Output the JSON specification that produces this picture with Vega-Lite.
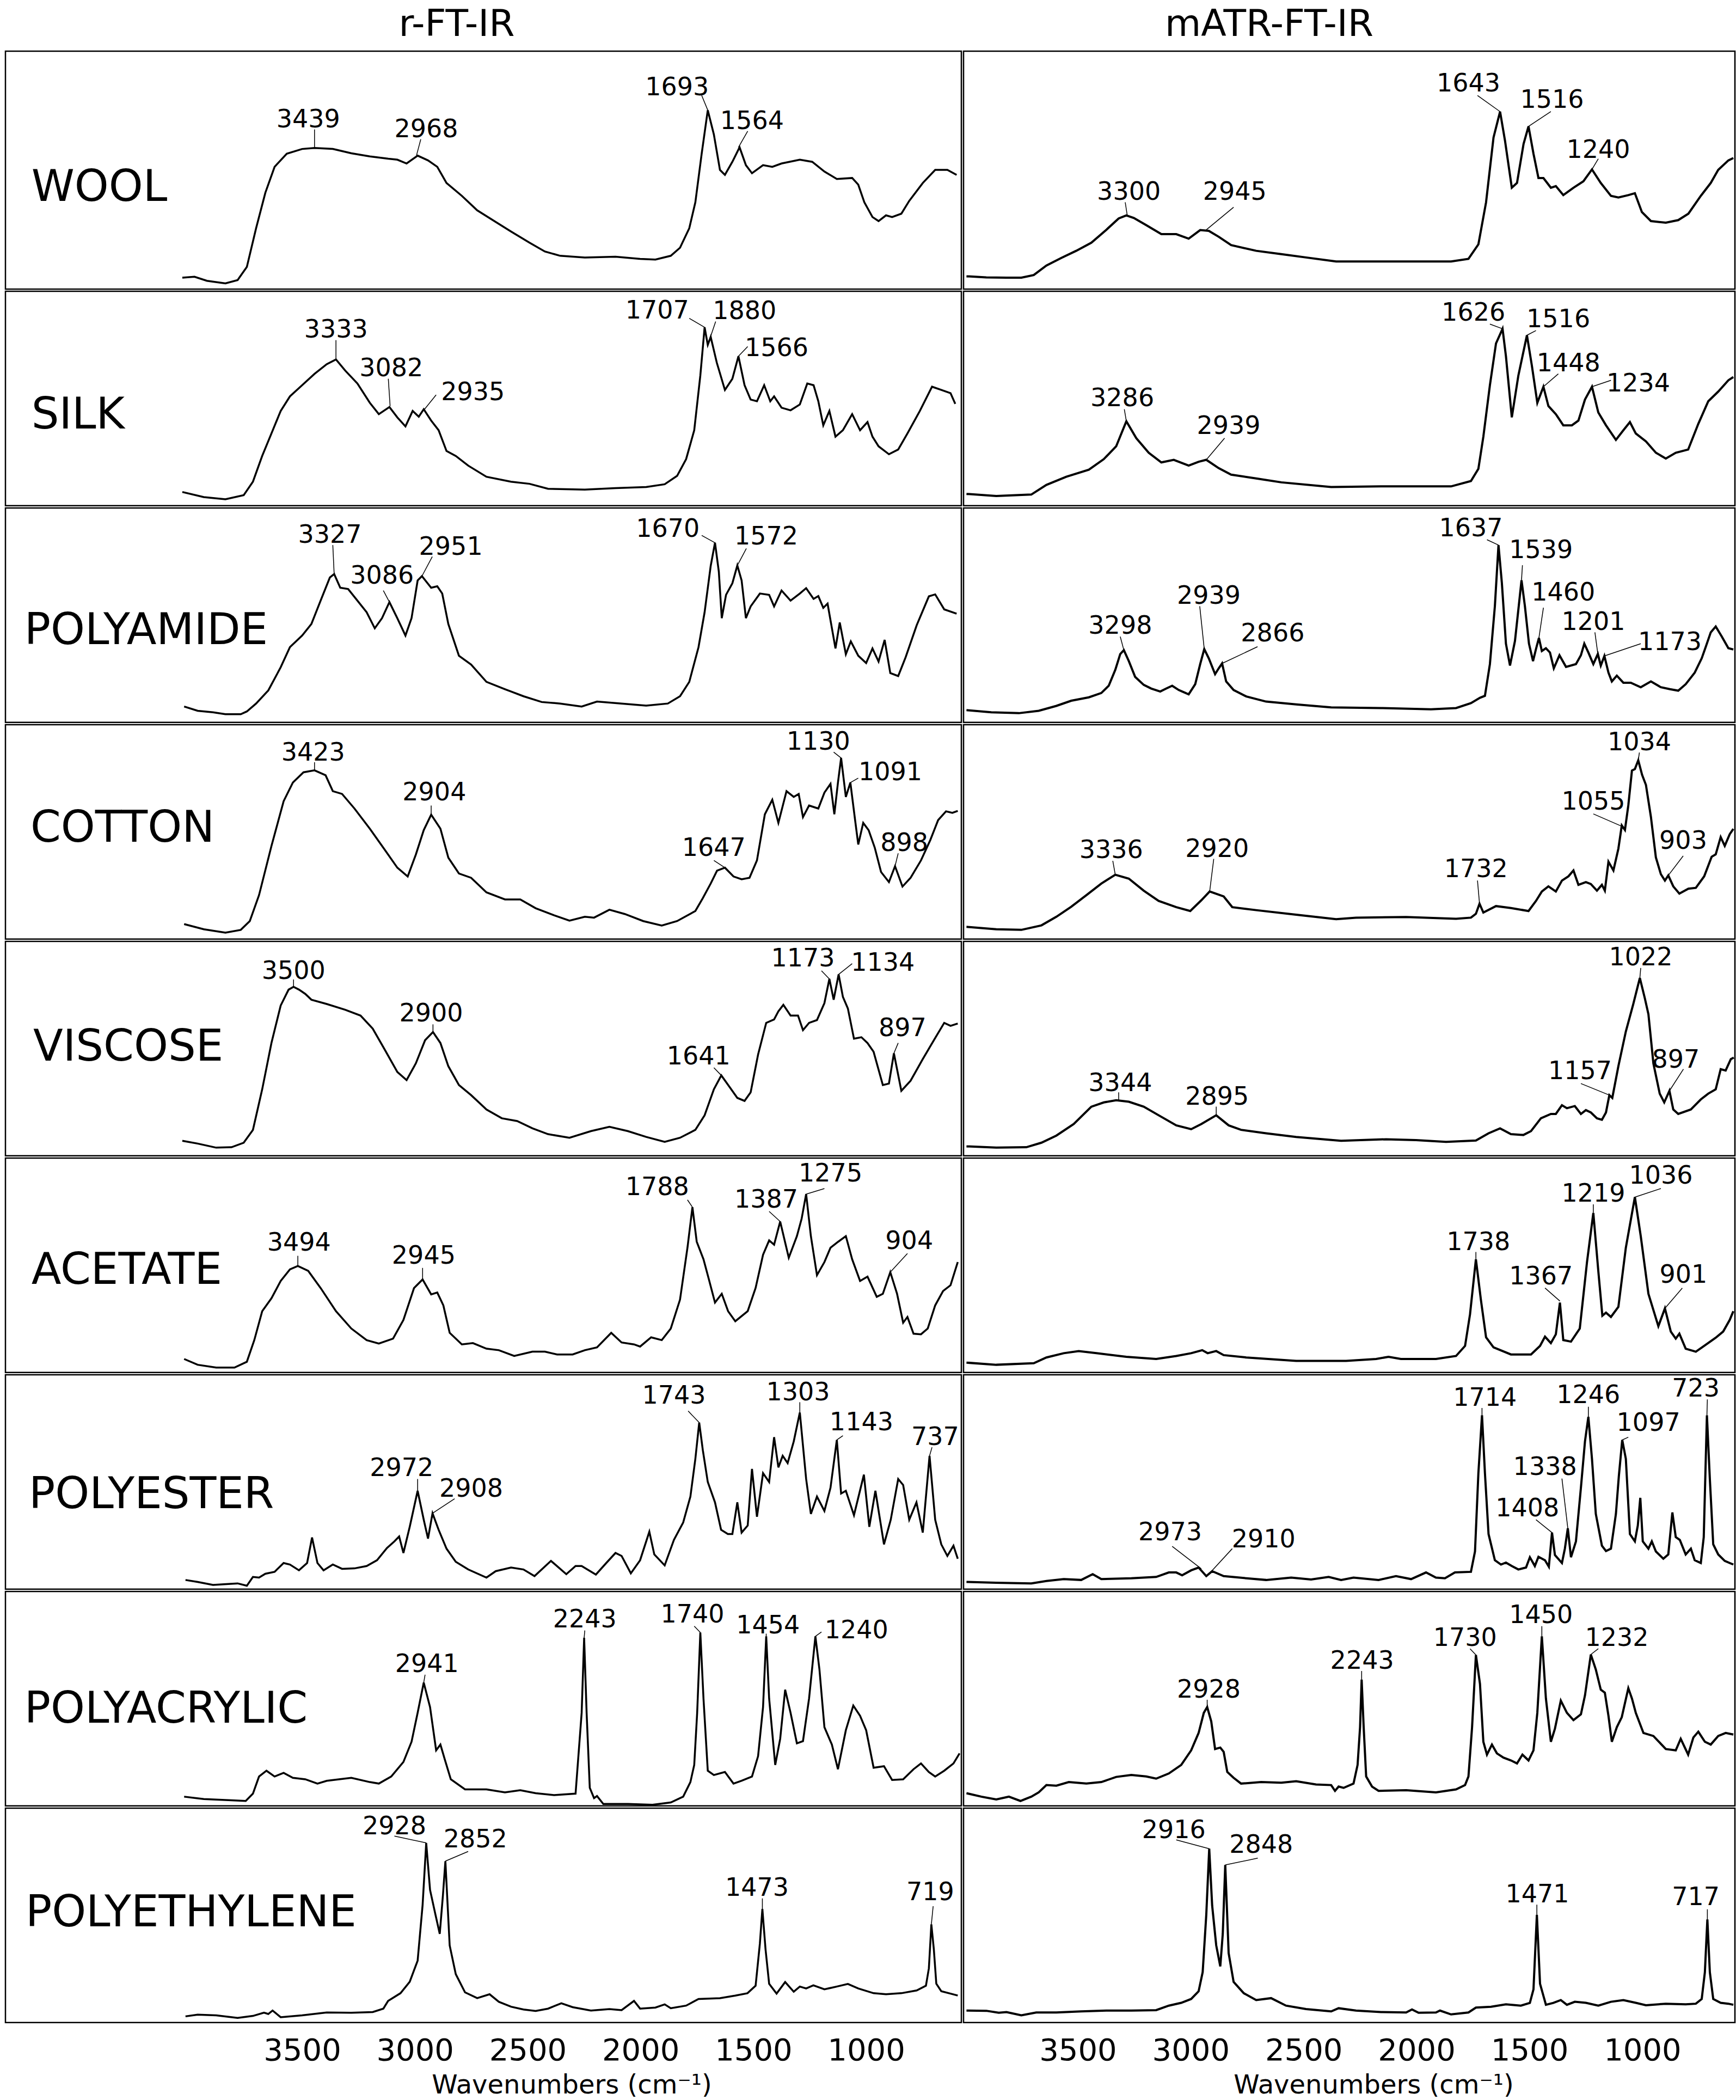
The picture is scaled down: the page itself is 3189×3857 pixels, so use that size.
{
"$schema": "https://vega.github.io/schema/vega-lite/v6.json",
"background": "white",
"padding": {"left": 8, "top": 10, "right": 5, "bottom": 5},
"config": {
  "view": {"stroke": "black", "strokeWidth": 2.5},
  "concat": {"spacing": 0},
  "facet": {"spacing": 0},
  "font": "DejaVu Sans",
  "title": {"font": "DejaVu Sans", "fontSize": 68, "fontWeight": "normal", "color": "black"},
  "text": {"font": "DejaVu Sans", "color": "black"}
},
"datasets": {
"R": [
{"s":"WOOL","n":"WOOL","tx":4700,"ty":37.1},
{"s":"WOOL","t":"3439","tx":3473,"ty":68.0,"x1":3445,"y1":67.1,"x2":3445,"y2":59.6},
{"s":"WOOL","t":"2968","tx":2950,"ty":63.9,"x1":2974,"y1":63.0,"x2":2993,"y2":56.2},
{"s":"WOOL","t":"1693","tx":1838,"ty":81.4,"x1":1729,"y1":81.4,"x2":1702,"y2":75.2},
{"s":"WOOL","t":"1564","tx":1506,"ty":67.3,"x1":1525,"y1":66.4,"x2":1566,"y2":59.6},
{"s":"WOOL","w":4031,"a":4.8},{"s":"WOOL","w":3977,"a":5.2},{"s":"WOOL","w":3922,"a":3.5},{"s":"WOOL","w":3840,"a":2.4},{"s":"WOOL","w":3786,"a":3.8},{"s":"WOOL","w":3745,"a":9.3},{"s":"WOOL","w":3704,"a":25.6},{"s":"WOOL","w":3663,"a":40.5},{"s":"WOOL","w":3622,"a":51.4},{"s":"WOOL","w":3568,"a":56.9},{"s":"WOOL","w":3500,"a":58.9},{"s":"WOOL","w":3445,"a":59.3},{"s":"WOOL","w":3364,"a":58.9},{"s":"WOOL","w":3282,"a":57.1},{"s":"WOOL","w":3200,"a":55.8},{"s":"WOOL","w":3118,"a":54.8},{"s":"WOOL","w":3078,"a":54.4},{"s":"WOOL","w":3037,"a":52.8},{"s":"WOOL","w":2988,"a":56.1},{"s":"WOOL","w":2942,"a":54.1},{"s":"WOOL","w":2901,"a":51.4},{"s":"WOOL","w":2860,"a":44.6},{"s":"WOOL","w":2792,"a":39.2},{"s":"WOOL","w":2724,"a":33.1},{"s":"WOOL","w":2655,"a":29.0},{"s":"WOOL","w":2574,"a":24.2},{"s":"WOOL","w":2492,"a":19.5},{"s":"WOOL","w":2424,"a":15.8},{"s":"WOOL","w":2356,"a":14.0},{"s":"WOOL","w":2247,"a":13.3},{"s":"WOOL","w":2111,"a":13.6},{"s":"WOOL","w":2002,"a":12.7},{"s":"WOOL","w":1934,"a":12.4},{"s":"WOOL","w":1866,"a":14.0},{"s":"WOOL","w":1825,"a":17.4},{"s":"WOOL","w":1784,"a":25.6},{"s":"WOOL","w":1757,"a":36.5},{"s":"WOOL","w":1729,"a":56.9},{"s":"WOOL","w":1702,"a":75.2},{"s":"WOOL","w":1675,"a":65.0},{"s":"WOOL","w":1648,"a":50.1},{"s":"WOOL","w":1626,"a":48.0},{"s":"WOOL","w":1593,"a":53.5},{"s":"WOOL","w":1561,"a":59.6},{"s":"WOOL","w":1533,"a":52.1},{"s":"WOOL","w":1506,"a":48.7},{"s":"WOOL","w":1457,"a":52.1},{"s":"WOOL","w":1416,"a":51.4},{"s":"WOOL","w":1375,"a":52.8},{"s":"WOOL","w":1294,"a":54.4},{"s":"WOOL","w":1239,"a":53.5},{"s":"WOOL","w":1185,"a":49.4},{"s":"WOOL","w":1130,"a":46.3},{"s":"WOOL","w":1062,"a":46.7},{"s":"WOOL","w":1035,"a":43.9},{"s":"WOOL","w":1008,"a":36.5},{"s":"WOOL","w":972,"a":30.3},{"s":"WOOL","w":945,"a":28.6},{"s":"WOOL","w":912,"a":31.0},{"s":"WOOL","w":885,"a":30.3},{"s":"WOOL","w":844,"a":31.7},{"s":"WOOL","w":809,"a":37.1},{"s":"WOOL","w":749,"a":44.6},{"s":"WOOL","w":694,"a":50.1},{"s":"WOOL","w":640,"a":50.1},{"s":"WOOL","w":599,"a":48.0},
{"s":"SILK","n":"SILK","tx":4700,"ty":36.0},
{"s":"SILK","t":"3333","tx":3350,"ty":78.3,"x1":3350,"y1":77.2,"x2":3350,"y2":68.2},
{"s":"SILK","t":"3082","tx":3105,"ty":60.3,"x1":3118,"y1":59.2,"x2":3110,"y2":46.5},
{"s":"SILK","t":"2935","tx":2743,"ty":49.2,"x1":2906,"y1":51.7,"x2":2961,"y2":44.5},
{"s":"SILK","t":"1707","tx":1926,"ty":87.4,"x1":1784,"y1":87.4,"x2":1716,"y2":83.2},
{"s":"SILK","t":"1880","tx":1539,"ty":87.0,"x1":1667,"y1":85.9,"x2":1702,"y2":75.0},
{"s":"SILK","t":"1566","tx":1397,"ty":69.7,"x1":1525,"y1":74.2,"x2":1566,"y2":69.7},
{"s":"SILK","w":4031,"a":6.4},{"s":"SILK","w":3936,"a":4.0},{"s":"SILK","w":3840,"a":3.0},{"s":"SILK","w":3759,"a":4.9},{"s":"SILK","w":3718,"a":11.2},{"s":"SILK","w":3677,"a":23.2},{"s":"SILK","w":3636,"a":33.7},{"s":"SILK","w":3595,"a":44.2},{"s":"SILK","w":3554,"a":51.0},{"s":"SILK","w":3500,"a":56.2},{"s":"SILK","w":3445,"a":61.5},{"s":"SILK","w":3391,"a":66.0},{"s":"SILK","w":3350,"a":68.2},{"s":"SILK","w":3309,"a":63.0},{"s":"SILK","w":3255,"a":57.0},{"s":"SILK","w":3200,"a":48.0},{"s":"SILK","w":3160,"a":42.7},{"s":"SILK","w":3113,"a":46.0},{"s":"SILK","w":3078,"a":41.2},{"s":"SILK","w":3042,"a":37.0},{"s":"SILK","w":3010,"a":44.2},{"s":"SILK","w":2983,"a":41.5},{"s":"SILK","w":2961,"a":45.0},{"s":"SILK","w":2928,"a":39.7},{"s":"SILK","w":2895,"a":35.2},{"s":"SILK","w":2860,"a":25.5},{"s":"SILK","w":2819,"a":23.2},{"s":"SILK","w":2764,"a":18.7},{"s":"SILK","w":2683,"a":13.5},{"s":"SILK","w":2574,"a":11.2},{"s":"SILK","w":2492,"a":10.2},{"s":"SILK","w":2410,"a":7.9},{"s":"SILK","w":2247,"a":7.5},{"s":"SILK","w":2111,"a":8.2},{"s":"SILK","w":1975,"a":8.7},{"s":"SILK","w":1893,"a":10.0},{"s":"SILK","w":1838,"a":13.9},{"s":"SILK","w":1798,"a":21.7},{"s":"SILK","w":1762,"a":35.2},{"s":"SILK","w":1735,"a":60.7},{"s":"SILK","w":1716,"a":83.2},{"s":"SILK","w":1702,"a":75.0},{"s":"SILK","w":1689,"a":78.7},{"s":"SILK","w":1662,"a":66.7},{"s":"SILK","w":1626,"a":54.0},{"s":"SILK","w":1593,"a":59.2},{"s":"SILK","w":1566,"a":69.7},{"s":"SILK","w":1539,"a":56.2},{"s":"SILK","w":1512,"a":49.5},{"s":"SILK","w":1484,"a":48.7},{"s":"SILK","w":1452,"a":56.2},{"s":"SILK","w":1425,"a":48.7},{"s":"SILK","w":1408,"a":51.0},{"s":"SILK","w":1375,"a":45.7},{"s":"SILK","w":1335,"a":44.5},{"s":"SILK","w":1294,"a":47.2},{"s":"SILK","w":1261,"a":57.0},{"s":"SILK","w":1233,"a":56.2},{"s":"SILK","w":1212,"a":48.7},{"s":"SILK","w":1190,"a":37.5},{"s":"SILK","w":1163,"a":44.2},{"s":"SILK","w":1136,"a":32.2},{"s":"SILK","w":1103,"a":35.2},{"s":"SILK","w":1062,"a":42.7},{"s":"SILK","w":1027,"a":35.2},{"s":"SILK","w":994,"a":39.0},{"s":"SILK","w":972,"a":32.2},{"s":"SILK","w":945,"a":27.7},{"s":"SILK","w":899,"a":24.0},{"s":"SILK","w":858,"a":26.2},{"s":"SILK","w":817,"a":33.7},{"s":"SILK","w":762,"a":44.2},{"s":"SILK","w":708,"a":55.5},{"s":"SILK","w":667,"a":54.0},{"s":"SILK","w":626,"a":52.5},{"s":"SILK","w":605,"a":47.5},
{"s":"POLYAMIDE","n":"POLYAMIDE","tx":4731,"ty":36.5},
{"s":"POLYAMIDE","t":"3327","tx":3377,"ty":83.8,"x1":3364,"y1":82.7,"x2":3358,"y2":69.2},
{"s":"POLYAMIDE","t":"3086","tx":3146,"ty":64.6,"x1":3140,"y1":61.5,"x2":3113,"y2":56.1},
{"s":"POLYAMIDE","t":"2951","tx":2841,"ty":78.1,"x1":2923,"y1":77.3,"x2":2969,"y2":68.2},
{"s":"POLYAMIDE","t":"1670","tx":1879,"ty":86.5,"x1":1729,"y1":87.2,"x2":1670,"y2":83.8},
{"s":"POLYAMIDE","t":"1572","tx":1443,"ty":83.1,"x1":1531,"y1":81.1,"x2":1571,"y2":73.2},
{"s":"POLYAMIDE","w":4023,"a":7.4},{"s":"POLYAMIDE","w":3963,"a":5.4},{"s":"POLYAMIDE","w":3895,"a":4.7},{"s":"POLYAMIDE","w":3840,"a":3.8},{"s":"POLYAMIDE","w":3772,"a":3.8},{"s":"POLYAMIDE","w":3745,"a":5.1},{"s":"POLYAMIDE","w":3704,"a":8.8},{"s":"POLYAMIDE","w":3650,"a":14.9},{"s":"POLYAMIDE","w":3595,"a":25.7},{"s":"POLYAMIDE","w":3554,"a":35.1},{"s":"POLYAMIDE","w":3500,"a":40.5},{"s":"POLYAMIDE","w":3459,"a":45.9},{"s":"POLYAMIDE","w":3418,"a":56.8},{"s":"POLYAMIDE","w":3377,"a":67.6},{"s":"POLYAMIDE","w":3358,"a":69.2},{"s":"POLYAMIDE","w":3331,"a":62.8},{"s":"POLYAMIDE","w":3296,"a":62.2},{"s":"POLYAMIDE","w":3255,"a":56.8},{"s":"POLYAMIDE","w":3214,"a":51.4},{"s":"POLYAMIDE","w":3178,"a":43.9},{"s":"POLYAMIDE","w":3146,"a":48.6},{"s":"POLYAMIDE","w":3113,"a":56.1},{"s":"POLYAMIDE","w":3078,"a":48.6},{"s":"POLYAMIDE","w":3042,"a":40.5},{"s":"POLYAMIDE","w":3015,"a":48.6},{"s":"POLYAMIDE","w":2988,"a":66.2},{"s":"POLYAMIDE","w":2969,"a":68.2},{"s":"POLYAMIDE","w":2928,"a":62.8},{"s":"POLYAMIDE","w":2901,"a":63.5},{"s":"POLYAMIDE","w":2879,"a":60.1},{"s":"POLYAMIDE","w":2852,"a":45.9},{"s":"POLYAMIDE","w":2805,"a":31.1},{"s":"POLYAMIDE","w":2751,"a":27.0},{"s":"POLYAMIDE","w":2683,"a":18.9},{"s":"POLYAMIDE","w":2601,"a":15.5},{"s":"POLYAMIDE","w":2519,"a":12.2},{"s":"POLYAMIDE","w":2438,"a":9.5},{"s":"POLYAMIDE","w":2356,"a":8.8},{"s":"POLYAMIDE","w":2261,"a":7.4},{"s":"POLYAMIDE","w":2193,"a":9.7},{"s":"POLYAMIDE","w":2084,"a":8.8},{"s":"POLYAMIDE","w":1975,"a":7.8},{"s":"POLYAMIDE","w":1879,"a":8.8},{"s":"POLYAMIDE","w":1825,"a":12.2},{"s":"POLYAMIDE","w":1784,"a":18.9},{"s":"POLYAMIDE","w":1743,"a":35.1},{"s":"POLYAMIDE","w":1716,"a":51.4},{"s":"POLYAMIDE","w":1689,"a":73.0},{"s":"POLYAMIDE","w":1670,"a":83.8},{"s":"POLYAMIDE","w":1653,"a":70.3},{"s":"POLYAMIDE","w":1640,"a":48.6},{"s":"POLYAMIDE","w":1621,"a":59.5},{"s":"POLYAMIDE","w":1593,"a":64.9},{"s":"POLYAMIDE","w":1571,"a":73.2},{"s":"POLYAMIDE","w":1552,"a":66.2},{"s":"POLYAMIDE","w":1533,"a":48.6},{"s":"POLYAMIDE","w":1512,"a":54.1},{"s":"POLYAMIDE","w":1471,"a":60.1},{"s":"POLYAMIDE","w":1430,"a":59.5},{"s":"POLYAMIDE","w":1408,"a":54.1},{"s":"POLYAMIDE","w":1375,"a":61.5},{"s":"POLYAMIDE","w":1335,"a":56.8},{"s":"POLYAMIDE","w":1294,"a":60.1},{"s":"POLYAMIDE","w":1266,"a":62.6},{"s":"POLYAMIDE","w":1233,"a":57.6},{"s":"POLYAMIDE","w":1212,"a":58.9},{"s":"POLYAMIDE","w":1190,"a":53.4},{"s":"POLYAMIDE","w":1171,"a":55.4},{"s":"POLYAMIDE","w":1136,"a":34.5},{"s":"POLYAMIDE","w":1117,"a":46.6},{"s":"POLYAMIDE","w":1090,"a":31.8},{"s":"POLYAMIDE","w":1068,"a":37.8},{"s":"POLYAMIDE","w":1035,"a":31.1},{"s":"POLYAMIDE","w":1000,"a":27.7},{"s":"POLYAMIDE","w":972,"a":34.5},{"s":"POLYAMIDE","w":945,"a":28.4},{"s":"POLYAMIDE","w":918,"a":38.5},{"s":"POLYAMIDE","w":893,"a":23.0},{"s":"POLYAMIDE","w":858,"a":21.6},{"s":"POLYAMIDE","w":825,"a":30.4},{"s":"POLYAMIDE","w":776,"a":45.3},{"s":"POLYAMIDE","w":722,"a":58.8},{"s":"POLYAMIDE","w":694,"a":59.7},{"s":"POLYAMIDE","w":654,"a":52.7},{"s":"POLYAMIDE","w":599,"a":50.7},
{"s":"COTTON","n":"COTTON","tx":4704,"ty":45.4},
{"s":"COTTON","t":"3423","tx":3451,"ty":83.2,"x1":3445,"y1":82.5,"x2":3445,"y2":78.7},
{"s":"COTTON","t":"2904","tx":2914,"ty":64.7,"x1":2928,"y1":62.3,"x2":2928,"y2":58.0},
{"s":"COTTON","t":"1647","tx":1675,"ty":38.7,"x1":1675,"y1":36.7,"x2":1626,"y2":33.3},
{"s":"COTTON","t":"1130","tx":1212,"ty":88.3,"x1":1144,"y1":87.2,"x2":1111,"y2":84.5},
{"s":"COTTON","t":"1091","tx":893,"ty":74.1,"x1":1035,"y1":75.1,"x2":1070,"y2":73.0},
{"s":"COTTON","t":"898","tx":831,"ty":41.1,"x1":858,"y1":40.0,"x2":872,"y2":34.0},
{"s":"COTTON","w":4023,"a":7.0},{"s":"COTTON","w":3936,"a":4.6},{"s":"COTTON","w":3840,"a":3.0},{"s":"COTTON","w":3772,"a":4.3},{"s":"COTTON","w":3732,"a":8.4},{"s":"COTTON","w":3691,"a":20.5},{"s":"COTTON","w":3636,"a":43.4},{"s":"COTTON","w":3582,"a":64.3},{"s":"COTTON","w":3541,"a":73.0},{"s":"COTTON","w":3494,"a":77.8},{"s":"COTTON","w":3445,"a":78.7},{"s":"COTTON","w":3396,"a":76.4},{"s":"COTTON","w":3364,"a":69.0},{"s":"COTTON","w":3323,"a":67.7},{"s":"COTTON","w":3268,"a":60.9},{"s":"COTTON","w":3200,"a":51.5},{"s":"COTTON","w":3132,"a":41.4},{"s":"COTTON","w":3078,"a":33.3},{"s":"COTTON","w":3032,"a":29.2},{"s":"COTTON","w":2996,"a":39.4},{"s":"COTTON","w":2961,"a":50.8},{"s":"COTTON","w":2928,"a":58.0},{"s":"COTTON","w":2887,"a":51.5},{"s":"COTTON","w":2852,"a":38.0},{"s":"COTTON","w":2805,"a":30.6},{"s":"COTTON","w":2751,"a":28.6},{"s":"COTTON","w":2683,"a":21.8},{"s":"COTTON","w":2601,"a":18.5},{"s":"COTTON","w":2533,"a":18.5},{"s":"COTTON","w":2465,"a":14.4},{"s":"COTTON","w":2383,"a":11.1},{"s":"COTTON","w":2315,"a":8.6},{"s":"COTTON","w":2247,"a":10.4},{"s":"COTTON","w":2206,"a":10.0},{"s":"COTTON","w":2138,"a":13.7},{"s":"COTTON","w":2070,"a":11.7},{"s":"COTTON","w":1988,"a":8.4},{"s":"COTTON","w":1906,"a":6.3},{"s":"COTTON","w":1838,"a":8.4},{"s":"COTTON","w":1757,"a":13.1},{"s":"COTTON","w":1724,"a":19.1},{"s":"COTTON","w":1689,"a":25.9},{"s":"COTTON","w":1661,"a":31.9},{"s":"COTTON","w":1626,"a":33.3},{"s":"COTTON","w":1588,"a":29.2},{"s":"COTTON","w":1552,"a":27.9},{"s":"COTTON","w":1517,"a":28.6},{"s":"COTTON","w":1484,"a":36.7},{"s":"COTTON","w":1449,"a":58.2},{"s":"COTTON","w":1416,"a":65.0},{"s":"COTTON","w":1389,"a":54.2},{"s":"COTTON","w":1353,"a":69.0},{"s":"COTTON","w":1321,"a":66.3},{"s":"COTTON","w":1299,"a":67.7},{"s":"COTTON","w":1280,"a":56.9},{"s":"COTTON","w":1253,"a":62.3},{"s":"COTTON","w":1212,"a":60.9},{"s":"COTTON","w":1185,"a":68.3},{"s":"COTTON","w":1158,"a":72.4},{"s":"COTTON","w":1141,"a":58.2},{"s":"COTTON","w":1125,"a":73.0},{"s":"COTTON","w":1111,"a":84.5},{"s":"COTTON","w":1090,"a":66.3},{"s":"COTTON","w":1070,"a":73.0},{"s":"COTTON","w":1049,"a":55.5},{"s":"COTTON","w":1035,"a":44.1},{"s":"COTTON","w":1013,"a":54.2},{"s":"COTTON","w":989,"a":50.8},{"s":"COTTON","w":962,"a":42.7},{"s":"COTTON","w":934,"a":31.3},{"s":"COTTON","w":899,"a":26.6},{"s":"COTTON","w":872,"a":34.0},{"s":"COTTON","w":839,"a":24.5},{"s":"COTTON","w":803,"a":28.6},{"s":"COTTON","w":757,"a":36.7},{"s":"COTTON","w":716,"a":46.1},{"s":"COTTON","w":681,"a":55.5},{"s":"COTTON","w":646,"a":59.6},{"s":"COTTON","w":618,"a":58.9},{"s":"COTTON","w":594,"a":59.8},
{"s":"VISCOSE","n":"VISCOSE","tx":4692,"ty":44.5},
{"s":"VISCOSE","t":"3500","tx":3538,"ty":82.5,"x1":3538,"y1":82.2,"x2":3538,"y2":78.8},
{"s":"VISCOSE","t":"2900","tx":2928,"ty":62.7,"x1":2920,"y1":61.3,"x2":2920,"y2":57.7},
{"s":"VISCOSE","t":"1641","tx":1743,"ty":42.7,"x1":1675,"y1":41.1,"x2":1642,"y2":37.5},
{"s":"VISCOSE","t":"1173","tx":1280,"ty":88.3,"x1":1198,"y1":86.3,"x2":1163,"y2":82.5},
{"s":"VISCOSE","t":"1134","tx":926,"ty":86.3,"x1":1062,"y1":89.6,"x2":1122,"y2":84.6},
{"s":"VISCOSE","t":"897","tx":839,"ty":55.9,"x1":858,"y1":52.6,"x2":877,"y2":47.8},
{"s":"VISCOSE","w":4031,"a":7.0},{"s":"VISCOSE","w":3963,"a":5.7},{"s":"VISCOSE","w":3881,"a":3.8},{"s":"VISCOSE","w":3813,"a":4.0},{"s":"VISCOSE","w":3759,"a":6.1},{"s":"VISCOSE","w":3718,"a":12.1},{"s":"VISCOSE","w":3677,"a":31.0},{"s":"VISCOSE","w":3636,"a":52.6},{"s":"VISCOSE","w":3595,"a":70.1},{"s":"VISCOSE","w":3560,"a":77.5},{"s":"VISCOSE","w":3538,"a":78.8},{"s":"VISCOSE","w":3514,"a":77.5},{"s":"VISCOSE","w":3486,"a":75.5},{"s":"VISCOSE","w":3459,"a":72.8},{"s":"VISCOSE","w":3391,"a":70.8},{"s":"VISCOSE","w":3309,"a":68.1},{"s":"VISCOSE","w":3241,"a":65.4},{"s":"VISCOSE","w":3187,"a":59.3},{"s":"VISCOSE","w":3132,"a":49.2},{"s":"VISCOSE","w":3078,"a":39.1},{"s":"VISCOSE","w":3037,"a":35.3},{"s":"VISCOSE","w":2996,"a":43.1},{"s":"VISCOSE","w":2955,"a":53.9},{"s":"VISCOSE","w":2920,"a":57.7},{"s":"VISCOSE","w":2887,"a":52.6},{"s":"VISCOSE","w":2852,"a":41.8},{"s":"VISCOSE","w":2805,"a":33.0},{"s":"VISCOSE","w":2751,"a":28.3},{"s":"VISCOSE","w":2683,"a":21.6},{"s":"VISCOSE","w":2615,"a":17.5},{"s":"VISCOSE","w":2547,"a":16.2},{"s":"VISCOSE","w":2479,"a":12.8},{"s":"VISCOSE","w":2410,"a":10.1},{"s":"VISCOSE","w":2315,"a":8.4},{"s":"VISCOSE","w":2220,"a":11.5},{"s":"VISCOSE","w":2138,"a":13.5},{"s":"VISCOSE","w":2056,"a":11.5},{"s":"VISCOSE","w":1975,"a":8.8},{"s":"VISCOSE","w":1893,"a":6.5},{"s":"VISCOSE","w":1825,"a":8.4},{"s":"VISCOSE","w":1757,"a":12.1},{"s":"VISCOSE","w":1716,"a":18.9},{"s":"VISCOSE","w":1675,"a":31.0},{"s":"VISCOSE","w":1642,"a":37.5},{"s":"VISCOSE","w":1607,"a":32.3},{"s":"VISCOSE","w":1571,"a":27.0},{"s":"VISCOSE","w":1539,"a":25.6},{"s":"VISCOSE","w":1512,"a":29.6},{"s":"VISCOSE","w":1479,"a":47.2},{"s":"VISCOSE","w":1443,"a":62.0},{"s":"VISCOSE","w":1408,"a":63.6},{"s":"VISCOSE","w":1389,"a":67.4},{"s":"VISCOSE","w":1367,"a":70.4},{"s":"VISCOSE","w":1335,"a":65.4},{"s":"VISCOSE","w":1302,"a":65.4},{"s":"VISCOSE","w":1280,"a":58.6},{"s":"VISCOSE","w":1253,"a":62.0},{"s":"VISCOSE","w":1218,"a":63.3},{"s":"VISCOSE","w":1185,"a":71.2},{"s":"VISCOSE","w":1163,"a":82.5},{"s":"VISCOSE","w":1144,"a":72.8},{"s":"VISCOSE","w":1122,"a":84.6},{"s":"VISCOSE","w":1103,"a":74.1},{"s":"VISCOSE","w":1081,"a":68.7},{"s":"VISCOSE","w":1054,"a":54.6},{"s":"VISCOSE","w":1021,"a":55.3},{"s":"VISCOSE","w":994,"a":52.6},{"s":"VISCOSE","w":967,"a":48.5},{"s":"VISCOSE","w":926,"a":33.0},{"s":"VISCOSE","w":899,"a":33.7},{"s":"VISCOSE","w":877,"a":47.8},{"s":"VISCOSE","w":844,"a":30.3},{"s":"VISCOSE","w":803,"a":35.0},{"s":"VISCOSE","w":749,"a":45.1},{"s":"VISCOSE","w":700,"a":53.9},{"s":"VISCOSE","w":654,"a":62.0},{"s":"VISCOSE","w":626,"a":60.6},{"s":"VISCOSE","w":594,"a":61.7},
{"s":"ACETATE","n":"ACETATE","tx":4700,"ty":41.4},
{"s":"ACETATE","t":"3494","tx":3514,"ty":56.9,"x1":3519,"y1":54.4,"x2":3519,"y2":49.7},
{"s":"ACETATE","t":"2945","tx":2961,"ty":50.8,"x1":2966,"y1":48.8,"x2":2966,"y2":43.4},
{"s":"ACETATE","t":"1788","tx":1926,"ty":82.7,"x1":1792,"y1":80.5,"x2":1770,"y2":77.1},
{"s":"ACETATE","t":"1387","tx":1443,"ty":76.8,"x1":1430,"y1":75.1,"x2":1381,"y2":70.4},
{"s":"ACETATE","t":"1275","tx":1158,"ty":89.2,"x1":1185,"y1":85.8,"x2":1266,"y2":83.2},
{"s":"ACETATE","t":"904","tx":809,"ty":57.5,"x1":817,"y1":55.5,"x2":893,"y2":46.8},
{"s":"ACETATE","w":4023,"a":6.3},{"s":"ACETATE","w":3963,"a":3.6},{"s":"ACETATE","w":3881,"a":2.3},{"s":"ACETATE","w":3800,"a":2.3},{"s":"ACETATE","w":3745,"a":5.0},{"s":"ACETATE","w":3712,"a":15.1},{"s":"ACETATE","w":3677,"a":28.6},{"s":"ACETATE","w":3636,"a":34.6},{"s":"ACETATE","w":3595,"a":42.7},{"s":"ACETATE","w":3554,"a":48.1},{"s":"ACETATE","w":3519,"a":49.7},{"s":"ACETATE","w":3473,"a":47.4},{"s":"ACETATE","w":3418,"a":39.4},{"s":"ACETATE","w":3350,"a":28.6},{"s":"ACETATE","w":3282,"a":20.5},{"s":"ACETATE","w":3214,"a":15.1},{"s":"ACETATE","w":3160,"a":13.5},{"s":"ACETATE","w":3097,"a":15.8},{"s":"ACETATE","w":3051,"a":24.5},{"s":"ACETATE","w":3004,"a":39.4},{"s":"ACETATE","w":2966,"a":43.4},{"s":"ACETATE","w":2928,"a":36.4},{"s":"ACETATE","w":2901,"a":37.3},{"s":"ACETATE","w":2874,"a":31.3},{"s":"ACETATE","w":2846,"a":18.5},{"s":"ACETATE","w":2792,"a":13.1},{"s":"ACETATE","w":2743,"a":13.7},{"s":"ACETATE","w":2683,"a":11.1},{"s":"ACETATE","w":2628,"a":10.4},{"s":"ACETATE","w":2560,"a":7.7},{"s":"ACETATE","w":2479,"a":9.7},{"s":"ACETATE","w":2424,"a":9.7},{"s":"ACETATE","w":2370,"a":8.4},{"s":"ACETATE","w":2301,"a":8.4},{"s":"ACETATE","w":2247,"a":10.4},{"s":"ACETATE","w":2193,"a":11.7},{"s":"ACETATE","w":2130,"a":18.5},{"s":"ACETATE","w":2084,"a":14.0},{"s":"ACETATE","w":2029,"a":13.1},{"s":"ACETATE","w":2002,"a":12.1},{"s":"ACETATE","w":1953,"a":16.4},{"s":"ACETATE","w":1906,"a":15.1},{"s":"ACETATE","w":1866,"a":20.5},{"s":"ACETATE","w":1825,"a":34.0},{"s":"ACETATE","w":1792,"a":58.2},{"s":"ACETATE","w":1770,"a":77.1},{"s":"ACETATE","w":1751,"a":61.0},{"s":"ACETATE","w":1721,"a":52.8},{"s":"ACETATE","w":1697,"a":43.4},{"s":"ACETATE","w":1670,"a":32.6},{"s":"ACETATE","w":1640,"a":36.7},{"s":"ACETATE","w":1612,"a":28.6},{"s":"ACETATE","w":1580,"a":23.9},{"s":"ACETATE","w":1525,"a":28.6},{"s":"ACETATE","w":1490,"a":39.4},{"s":"ACETATE","w":1457,"a":54.9},{"s":"ACETATE","w":1430,"a":61.6},{"s":"ACETATE","w":1408,"a":59.6},{"s":"ACETATE","w":1381,"a":70.4},{"s":"ACETATE","w":1343,"a":53.5},{"s":"ACETATE","w":1307,"a":63.6},{"s":"ACETATE","w":1286,"a":71.7},{"s":"ACETATE","w":1266,"a":83.2},{"s":"ACETATE","w":1245,"a":63.6},{"s":"ACETATE","w":1218,"a":45.4},{"s":"ACETATE","w":1185,"a":51.5},{"s":"ACETATE","w":1158,"a":58.2},{"s":"ACETATE","w":1125,"a":60.9},{"s":"ACETATE","w":1090,"a":63.6},{"s":"ACETATE","w":1062,"a":52.8},{"s":"ACETATE","w":1027,"a":42.7},{"s":"ACETATE","w":994,"a":44.7},{"s":"ACETATE","w":953,"a":35.3},{"s":"ACETATE","w":926,"a":36.7},{"s":"ACETATE","w":893,"a":46.8},{"s":"ACETATE","w":863,"a":36.7},{"s":"ACETATE","w":836,"a":23.2},{"s":"ACETATE","w":817,"a":25.9},{"s":"ACETATE","w":790,"a":18.1},{"s":"ACETATE","w":757,"a":17.8},{"s":"ACETATE","w":727,"a":20.5},{"s":"ACETATE","w":694,"a":31.3},{"s":"ACETATE","w":659,"a":38.0},{"s":"ACETATE","w":626,"a":40.7},{"s":"ACETATE","w":594,"a":51.5},
{"s":"POLYESTER","n":"POLYESTER","tx":4711,"ty":37.8},
{"s":"POLYESTER","t":"2972","tx":3059,"ty":52.7,"x1":2988,"y1":51.4,"x2":2988,"y2":45.9},
{"s":"POLYESTER","t":"2908","tx":2751,"ty":43.2,"x1":2824,"y1":42.2,"x2":2922,"y2":35.4},
{"s":"POLYESTER","t":"1743","tx":1852,"ty":86.5,"x1":1789,"y1":83.1,"x2":1740,"y2":77.7},
{"s":"POLYESTER","t":"1303","tx":1302,"ty":88.1,"x1":1294,"y1":87.2,"x2":1294,"y2":82.4},
{"s":"POLYESTER","t":"1143","tx":1021,"ty":74.1,"x1":1103,"y1":71.6,"x2":1130,"y2":69.6},
{"s":"POLYESTER","t":"737","tx":694,"ty":67.3,"x1":708,"y1":66.2,"x2":719,"y2":62.2},
{"s":"POLYESTER","w":4017,"a":4.3},{"s":"POLYESTER","w":3963,"a":3.4},{"s":"POLYESTER","w":3895,"a":2.0},{"s":"POLYESTER","w":3827,"a":2.4},{"s":"POLYESTER","w":3786,"a":2.7},{"s":"POLYESTER","w":3745,"a":1.6},{"s":"POLYESTER","w":3718,"a":5.7},{"s":"POLYESTER","w":3691,"a":5.4},{"s":"POLYESTER","w":3663,"a":7.2},{"s":"POLYESTER","w":3622,"a":8.1},{"s":"POLYESTER","w":3582,"a":12.2},{"s":"POLYESTER","w":3554,"a":11.5},{"s":"POLYESTER","w":3514,"a":8.8},{"s":"POLYESTER","w":3478,"a":12.2},{"s":"POLYESTER","w":3456,"a":24.1},{"s":"POLYESTER","w":3432,"a":12.2},{"s":"POLYESTER","w":3405,"a":8.8},{"s":"POLYESTER","w":3364,"a":11.5},{"s":"POLYESTER","w":3323,"a":9.5},{"s":"POLYESTER","w":3268,"a":9.7},{"s":"POLYESTER","w":3214,"a":10.8},{"s":"POLYESTER","w":3168,"a":13.5},{"s":"POLYESTER","w":3124,"a":19.2},{"s":"POLYESTER","w":3091,"a":22.3},{"s":"POLYESTER","w":3070,"a":24.6},{"s":"POLYESTER","w":3051,"a":16.9},{"s":"POLYESTER","w":3023,"a":29.1},{"s":"POLYESTER","w":2988,"a":45.9},{"s":"POLYESTER","w":2961,"a":32.4},{"s":"POLYESTER","w":2942,"a":23.6},{"s":"POLYESTER","w":2922,"a":35.4},{"s":"POLYESTER","w":2895,"a":27.7},{"s":"POLYESTER","w":2860,"a":18.9},{"s":"POLYESTER","w":2819,"a":12.8},{"s":"POLYESTER","w":2764,"a":9.2},{"s":"POLYESTER","w":2683,"a":5.4},{"s":"POLYESTER","w":2642,"a":8.4},{"s":"POLYESTER","w":2574,"a":10.1},{"s":"POLYESTER","w":2519,"a":9.2},{"s":"POLYESTER","w":2470,"a":6.1},{"s":"POLYESTER","w":2397,"a":13.2},{"s":"POLYESTER","w":2329,"a":7.0},{"s":"POLYESTER","w":2288,"a":10.8},{"s":"POLYESTER","w":2261,"a":10.8},{"s":"POLYESTER","w":2198,"a":6.8},{"s":"POLYESTER","w":2152,"a":12.2},{"s":"POLYESTER","w":2111,"a":16.9},{"s":"POLYESTER","w":2084,"a":15.5},{"s":"POLYESTER","w":2043,"a":7.4},{"s":"POLYESTER","w":2002,"a":13.5},{"s":"POLYESTER","w":1961,"a":26.8},{"s":"POLYESTER","w":1939,"a":16.2},{"s":"POLYESTER","w":1893,"a":11.1},{"s":"POLYESTER","w":1852,"a":23.0},{"s":"POLYESTER","w":1811,"a":31.1},{"s":"POLYESTER","w":1779,"a":43.2},{"s":"POLYESTER","w":1757,"a":60.8},{"s":"POLYESTER","w":1740,"a":77.7},{"s":"POLYESTER","w":1724,"a":64.9},{"s":"POLYESTER","w":1702,"a":50.0},{"s":"POLYESTER","w":1670,"a":40.5},{"s":"POLYESTER","w":1643,"a":27.7},{"s":"POLYESTER","w":1613,"a":25.7},{"s":"POLYESTER","w":1593,"a":25.7},{"s":"POLYESTER","w":1571,"a":40.5},{"s":"POLYESTER","w":1552,"a":26.4},{"s":"POLYESTER","w":1525,"a":29.7},{"s":"POLYESTER","w":1506,"a":56.1},{"s":"POLYESTER","w":1484,"a":33.8},{"s":"POLYESTER","w":1457,"a":54.1},{"s":"POLYESTER","w":1430,"a":50.0},{"s":"POLYESTER","w":1408,"a":70.9},{"s":"POLYESTER","w":1389,"a":56.8},{"s":"POLYESTER","w":1370,"a":62.2},{"s":"POLYESTER","w":1348,"a":58.8},{"s":"POLYESTER","w":1321,"a":68.9},{"s":"POLYESTER","w":1294,"a":82.4},{"s":"POLYESTER","w":1266,"a":51.4},{"s":"POLYESTER","w":1245,"a":35.1},{"s":"POLYESTER","w":1218,"a":43.2},{"s":"POLYESTER","w":1185,"a":36.5},{"s":"POLYESTER","w":1158,"a":47.3},{"s":"POLYESTER","w":1130,"a":69.6},{"s":"POLYESTER","w":1111,"a":44.6},{"s":"POLYESTER","w":1090,"a":45.9},{"s":"POLYESTER","w":1054,"a":34.5},{"s":"POLYESTER","w":1010,"a":53.4},{"s":"POLYESTER","w":986,"a":29.1},{"s":"POLYESTER","w":959,"a":45.9},{"s":"POLYESTER","w":921,"a":20.9},{"s":"POLYESTER","w":891,"a":32.4},{"s":"POLYESTER","w":858,"a":51.4},{"s":"POLYESTER","w":836,"a":48.6},{"s":"POLYESTER","w":809,"a":32.4},{"s":"POLYESTER","w":777,"a":40.5},{"s":"POLYESTER","w":749,"a":26.4},{"s":"POLYESTER","w":719,"a":62.2},{"s":"POLYESTER","w":694,"a":32.4},{"s":"POLYESTER","w":667,"a":20.9},{"s":"POLYESTER","w":640,"a":15.5},{"s":"POLYESTER","w":613,"a":20.3},{"s":"POLYESTER","w":594,"a":14.2},
{"s":"POLYACRYLIC","n":"POLYACRYLIC","tx":4731,"ty":38.7},
{"s":"POLYACRYLIC","t":"2941","tx":2947,"ty":62.3,"x1":2955,"y1":61.2,"x2":2961,"y2":57.5},
{"s":"POLYACRYLIC","t":"2243","tx":2247,"ty":83.2,"x1":2247,"y1":81.8,"x2":2250,"y2":78.4},
{"s":"POLYACRYLIC","t":"1740","tx":1770,"ty":85.4,"x1":1762,"y1":83.8,"x2":1735,"y2":80.9},
{"s":"POLYACRYLIC","t":"1454","tx":1435,"ty":80.5,"x1":1443,"y1":80.3,"x2":1443,"y2":79.1},
{"s":"POLYACRYLIC","t":"1240","tx":1043,"ty":78.2,"x1":1198,"y1":81.1,"x2":1225,"y2":79.1},
{"s":"POLYACRYLIC","w":4023,"a":4.3},{"s":"POLYACRYLIC","w":3936,"a":3.2},{"s":"POLYACRYLIC","w":3827,"a":2.7},{"s":"POLYACRYLIC","w":3750,"a":2.3},{"s":"POLYACRYLIC","w":3718,"a":5.7},{"s":"POLYACRYLIC","w":3691,"a":13.7},{"s":"POLYACRYLIC","w":3658,"a":16.4},{"s":"POLYACRYLIC","w":3622,"a":13.7},{"s":"POLYACRYLIC","w":3582,"a":15.4},{"s":"POLYACRYLIC","w":3541,"a":13.1},{"s":"POLYACRYLIC","w":3486,"a":12.4},{"s":"POLYACRYLIC","w":3432,"a":10.4},{"s":"POLYACRYLIC","w":3391,"a":11.7},{"s":"POLYACRYLIC","w":3282,"a":13.1},{"s":"POLYACRYLIC","w":3200,"a":11.1},{"s":"POLYACRYLIC","w":3160,"a":10.4},{"s":"POLYACRYLIC","w":3105,"a":13.7},{"s":"POLYACRYLIC","w":3051,"a":20.5},{"s":"POLYACRYLIC","w":3015,"a":29.9},{"s":"POLYACRYLIC","w":2988,"a":43.4},{"s":"POLYACRYLIC","w":2961,"a":57.5},{"s":"POLYACRYLIC","w":2933,"a":46.1},{"s":"POLYACRYLIC","w":2906,"a":25.9},{"s":"POLYACRYLIC","w":2887,"a":28.6},{"s":"POLYACRYLIC","w":2868,"a":21.8},{"s":"POLYACRYLIC","w":2841,"a":12.4},{"s":"POLYACRYLIC","w":2778,"a":7.7},{"s":"POLYACRYLIC","w":2683,"a":7.7},{"s":"POLYACRYLIC","w":2601,"a":6.3},{"s":"POLYACRYLIC","w":2533,"a":7.3},{"s":"POLYACRYLIC","w":2465,"a":5.9},{"s":"POLYACRYLIC","w":2383,"a":5.0},{"s":"POLYACRYLIC","w":2288,"a":5.7},{"s":"POLYACRYLIC","w":2261,"a":43.4},{"s":"POLYACRYLIC","w":2250,"a":78.4},{"s":"POLYACRYLIC","w":2239,"a":43.4},{"s":"POLYACRYLIC","w":2225,"a":8.4},{"s":"POLYACRYLIC","w":2206,"a":3.6},{"s":"POLYACRYLIC","w":2193,"a":4.6},{"s":"POLYACRYLIC","w":2165,"a":0.9},{"s":"POLYACRYLIC","w":2056,"a":0.9},{"s":"POLYACRYLIC","w":1947,"a":0.5},{"s":"POLYACRYLIC","w":1866,"a":1.6},{"s":"POLYACRYLIC","w":1811,"a":4.3},{"s":"POLYACRYLIC","w":1779,"a":11.1},{"s":"POLYACRYLIC","w":1762,"a":19.1},{"s":"POLYACRYLIC","w":1749,"a":43.4},{"s":"POLYACRYLIC","w":1735,"a":80.9},{"s":"POLYACRYLIC","w":1721,"a":50.1},{"s":"POLYACRYLIC","w":1702,"a":16.4},{"s":"POLYACRYLIC","w":1675,"a":14.4},{"s":"POLYACRYLIC","w":1626,"a":15.8},{"s":"POLYACRYLIC","w":1588,"a":10.4},{"s":"POLYACRYLIC","w":1552,"a":11.7},{"s":"POLYACRYLIC","w":1506,"a":13.7},{"s":"POLYACRYLIC","w":1479,"a":23.2},{"s":"POLYACRYLIC","w":1457,"a":46.1},{"s":"POLYACRYLIC","w":1443,"a":79.1},{"s":"POLYACRYLIC","w":1430,"a":50.1},{"s":"POLYACRYLIC","w":1403,"a":19.1},{"s":"POLYACRYLIC","w":1381,"a":31.3},{"s":"POLYACRYLIC","w":1359,"a":54.2},{"s":"POLYACRYLIC","w":1335,"a":43.4},{"s":"POLYACRYLIC","w":1307,"a":29.2},{"s":"POLYACRYLIC","w":1280,"a":30.2},{"s":"POLYACRYLIC","w":1253,"a":50.1},{"s":"POLYACRYLIC","w":1225,"a":79.1},{"s":"POLYACRYLIC","w":1207,"a":63.6},{"s":"POLYACRYLIC","w":1185,"a":36.7},{"s":"POLYACRYLIC","w":1152,"a":28.6},{"s":"POLYACRYLIC","w":1125,"a":17.1},{"s":"POLYACRYLIC","w":1090,"a":35.3},{"s":"POLYACRYLIC","w":1057,"a":46.8},{"s":"POLYACRYLIC","w":1027,"a":42.0},{"s":"POLYACRYLIC","w":1000,"a":35.3},{"s":"POLYACRYLIC","w":967,"a":17.8},{"s":"POLYACRYLIC","w":921,"a":18.5},{"s":"POLYACRYLIC","w":885,"a":12.1},{"s":"POLYACRYLIC","w":836,"a":12.4},{"s":"POLYACRYLIC","w":790,"a":17.1},{"s":"POLYACRYLIC","w":757,"a":19.8},{"s":"POLYACRYLIC","w":722,"a":15.8},{"s":"POLYACRYLIC","w":694,"a":13.7},{"s":"POLYACRYLIC","w":654,"a":16.4},{"s":"POLYACRYLIC","w":613,"a":19.8},{"s":"POLYACRYLIC","w":586,"a":24.5},
{"s":"POLYETHYLENE","n":"POLYETHYLENE","tx":4726,"ty":45.0},
{"s":"POLYETHYLENE","t":"2928","tx":3091,"ty":87.8,"x1":3091,"y1":87.0,"x2":2950,"y2":83.8},
{"s":"POLYETHYLENE","t":"2852","tx":2732,"ty":81.6,"x1":2764,"y1":79.8,"x2":2865,"y2":75.3},
{"s":"POLYETHYLENE","t":"1473","tx":1484,"ty":59.2,"x1":1460,"y1":57.9,"x2":1460,"y2":53.0},
{"s":"POLYETHYLENE","t":"719","tx":716,"ty":57.0,"x1":703,"y1":54.3,"x2":711,"y2":45.8},
{"s":"POLYETHYLENE","w":4017,"a":2.9},{"s":"POLYETHYLENE","w":3963,"a":3.7},{"s":"POLYETHYLENE","w":3881,"a":3.4},{"s":"POLYETHYLENE","w":3786,"a":2.2},{"s":"POLYETHYLENE","w":3718,"a":3.1},{"s":"POLYETHYLENE","w":3669,"a":4.6},{"s":"POLYETHYLENE","w":3650,"a":4.0},{"s":"POLYETHYLENE","w":3631,"a":5.6},{"s":"POLYETHYLENE","w":3595,"a":2.5},{"s":"POLYETHYLENE","w":3500,"a":3.4},{"s":"POLYETHYLENE","w":3391,"a":4.7},{"s":"POLYETHYLENE","w":3282,"a":4.6},{"s":"POLYETHYLENE","w":3187,"a":4.9},{"s":"POLYETHYLENE","w":3140,"a":6.5},{"s":"POLYETHYLENE","w":3119,"a":10.1},{"s":"POLYETHYLENE","w":3064,"a":13.7},{"s":"POLYETHYLENE","w":3023,"a":19.0},{"s":"POLYETHYLENE","w":2988,"a":28.9},{"s":"POLYETHYLENE","w":2966,"a":54.8},{"s":"POLYETHYLENE","w":2950,"a":83.8},{"s":"POLYETHYLENE","w":2933,"a":61.9},{"s":"POLYETHYLENE","w":2909,"a":50.3},{"s":"POLYETHYLENE","w":2890,"a":41.4},{"s":"POLYETHYLENE","w":2876,"a":59.2},{"s":"POLYETHYLENE","w":2865,"a":75.3},{"s":"POLYETHYLENE","w":2846,"a":36.0},{"s":"POLYETHYLENE","w":2819,"a":22.6},{"s":"POLYETHYLENE","w":2778,"a":14.1},{"s":"POLYETHYLENE","w":2724,"a":11.4},{"s":"POLYETHYLENE","w":2669,"a":13.2},{"s":"POLYETHYLENE","w":2628,"a":9.7},{"s":"POLYETHYLENE","w":2574,"a":7.4},{"s":"POLYETHYLENE","w":2519,"a":6.1},{"s":"POLYETHYLENE","w":2465,"a":5.4},{"s":"POLYETHYLENE","w":2410,"a":6.5},{"s":"POLYETHYLENE","w":2351,"a":9.0},{"s":"POLYETHYLENE","w":2301,"a":7.2},{"s":"POLYETHYLENE","w":2220,"a":5.6},{"s":"POLYETHYLENE","w":2138,"a":6.3},{"s":"POLYETHYLENE","w":2084,"a":5.8},{"s":"POLYETHYLENE","w":2029,"a":10.1},{"s":"POLYETHYLENE","w":2002,"a":6.5},{"s":"POLYETHYLENE","w":1934,"a":7.0},{"s":"POLYETHYLENE","w":1893,"a":8.5},{"s":"POLYETHYLENE","w":1866,"a":6.7},{"s":"POLYETHYLENE","w":1798,"a":7.9},{"s":"POLYETHYLENE","w":1743,"a":11.0},{"s":"POLYETHYLENE","w":1648,"a":11.4},{"s":"POLYETHYLENE","w":1580,"a":12.6},{"s":"POLYETHYLENE","w":1526,"a":13.7},{"s":"POLYETHYLENE","w":1490,"a":17.2},{"s":"POLYETHYLENE","w":1471,"a":36.9},{"s":"POLYETHYLENE","w":1460,"a":53.0},{"s":"POLYETHYLENE","w":1446,"a":34.2},{"s":"POLYETHYLENE","w":1430,"a":18.1},{"s":"POLYETHYLENE","w":1397,"a":13.5},{"s":"POLYETHYLENE","w":1359,"a":18.9},{"s":"POLYETHYLENE","w":1321,"a":14.4},{"s":"POLYETHYLENE","w":1294,"a":16.8},{"s":"POLYETHYLENE","w":1266,"a":15.9},{"s":"POLYETHYLENE","w":1234,"a":17.4},{"s":"POLYETHYLENE","w":1185,"a":15.5},{"s":"POLYETHYLENE","w":1130,"a":16.8},{"s":"POLYETHYLENE","w":1081,"a":18.0},{"s":"POLYETHYLENE","w":1035,"a":15.9},{"s":"POLYETHYLENE","w":967,"a":13.7},{"s":"POLYETHYLENE","w":912,"a":13.2},{"s":"POLYETHYLENE","w":844,"a":13.7},{"s":"POLYETHYLENE","w":776,"a":15.0},{"s":"POLYETHYLENE","w":735,"a":17.2},{"s":"POLYETHYLENE","w":722,"a":25.3},{"s":"POLYETHYLENE","w":711,"a":45.8},{"s":"POLYETHYLENE","w":700,"a":34.2},{"s":"POLYETHYLENE","w":689,"a":18.1},{"s":"POLYETHYLENE","w":667,"a":14.6},{"s":"POLYETHYLENE","w":626,"a":13.5},{"s":"POLYETHYLENE","w":594,"a":12.6}
],
"M": [
{"s":"WOOL","t":"3300","tx":3274,"ty":37.6,"x1":3290,"y1":36.5,"x2":3281,"y2":31.0},
{"s":"WOOL","t":"2945","tx":2805,"ty":37.6,"x1":2810,"y1":34.4,"x2":2931,"y2":24.9},
{"s":"WOOL","t":"1643","tx":1770,"ty":83.0,"x1":1730,"y1":81.4,"x2":1630,"y2":74.6},
{"s":"WOOL","t":"1516","tx":1400,"ty":76.2,"x1":1405,"y1":74.6,"x2":1504,"y2":68.4},
{"s":"WOOL","t":"1240","tx":1195,"ty":55.2,"x1":1195,"y1":54.8,"x2":1223,"y2":50.3},
{"s":"WOOL","w":3993,"a":5.4},{"s":"WOOL","w":3905,"a":4.9},{"s":"WOOL","w":3816,"a":4.8},{"s":"WOOL","w":3750,"a":4.8},{"s":"WOOL","w":3695,"a":5.9},{"s":"WOOL","w":3639,"a":9.9},{"s":"WOOL","w":3573,"a":13.1},{"s":"WOOL","w":3507,"a":16.1},{"s":"WOOL","w":3440,"a":19.5},{"s":"WOOL","w":3374,"a":24.9},{"s":"WOOL","w":3319,"a":29.7},{"s":"WOOL","w":3285,"a":31.0},{"s":"WOOL","w":3252,"a":29.9},{"s":"WOOL","w":3197,"a":26.9},{"s":"WOOL","w":3130,"a":23.1},{"s":"WOOL","w":3064,"a":23.1},{"s":"WOOL","w":3009,"a":21.2},{"s":"WOOL","w":2958,"a":24.8},{"s":"WOOL","w":2920,"a":24.5},{"s":"WOOL","w":2876,"a":22.0},{"s":"WOOL","w":2821,"a":18.5},{"s":"WOOL","w":2710,"a":16.1},{"s":"WOOL","w":2599,"a":14.7},{"s":"WOOL","w":2489,"a":13.3},{"s":"WOOL","w":2356,"a":11.6},{"s":"WOOL","w":2157,"a":11.6},{"s":"WOOL","w":1847,"a":11.6},{"s":"WOOL","w":1770,"a":12.7},{"s":"WOOL","w":1726,"a":18.8},{"s":"WOOL","w":1692,"a":36.5},{"s":"WOOL","w":1659,"a":63.7},{"s":"WOOL","w":1630,"a":74.6},{"s":"WOOL","w":1608,"a":62.3},{"s":"WOOL","w":1578,"a":42.6},{"s":"WOOL","w":1555,"a":44.6},{"s":"WOOL","w":1526,"a":61.0},{"s":"WOOL","w":1504,"a":68.4},{"s":"WOOL","w":1482,"a":56.9},{"s":"WOOL","w":1460,"a":46.7},{"s":"WOOL","w":1438,"a":46.7},{"s":"WOOL","w":1405,"a":42.6},{"s":"WOOL","w":1383,"a":43.3},{"s":"WOOL","w":1350,"a":39.5},{"s":"WOOL","w":1305,"a":42.6},{"s":"WOOL","w":1261,"a":45.3},{"s":"WOOL","w":1223,"a":50.3},{"s":"WOOL","w":1184,"a":44.6},{"s":"WOOL","w":1139,"a":39.2},{"s":"WOOL","w":1106,"a":38.5},{"s":"WOOL","w":1062,"a":39.5},{"s":"WOOL","w":1033,"a":40.3},{"s":"WOOL","w":1002,"a":32.4},{"s":"WOOL","w":962,"a":28.6},{"s":"WOOL","w":896,"a":27.9},{"s":"WOOL","w":841,"a":29.0},{"s":"WOOL","w":796,"a":31.7},{"s":"WOOL","w":741,"a":39.2},{"s":"WOOL","w":697,"a":44.6},{"s":"WOOL","w":664,"a":50.1},{"s":"WOOL","w":619,"a":54.1},{"s":"WOOL","w":597,"a":55.1},
{"s":"SILK","t":"3286","tx":3303,"ty":46.5,"x1":3294,"y1":45.0,"x2":3285,"y2":39.4},
{"s":"SILK","t":"2939","tx":2832,"ty":33.4,"x1":2850,"y1":31.5,"x2":2931,"y2":21.4},
{"s":"SILK","t":"1626","tx":1748,"ty":86.2,"x1":1675,"y1":84.7,"x2":1619,"y2":82.5},
{"s":"SILK","t":"1516","tx":1372,"ty":83.2,"x1":1471,"y1":81.7,"x2":1511,"y2":79.5},
{"s":"SILK","t":"1448","tx":1327,"ty":62.7,"x1":1372,"y1":61.5,"x2":1438,"y2":55.5},
{"s":"SILK","t":"1234","tx":1018,"ty":53.2,"x1":1139,"y1":58.5,"x2":1223,"y2":55.5},
{"s":"SILK","w":3993,"a":5.5},{"s":"SILK","w":3861,"a":4.5},{"s":"SILK","w":3706,"a":5.2},{"s":"SILK","w":3639,"a":9.7},{"s":"SILK","w":3551,"a":13.5},{"s":"SILK","w":3451,"a":16.8},{"s":"SILK","w":3385,"a":21.7},{"s":"SILK","w":3330,"a":27.7},{"s":"SILK","w":3285,"a":39.4},{"s":"SILK","w":3241,"a":31.5},{"s":"SILK","w":3186,"a":24.7},{"s":"SILK","w":3130,"a":20.2},{"s":"SILK","w":3075,"a":21.4},{"s":"SILK","w":3009,"a":18.7},{"s":"SILK","w":2965,"a":20.5},{"s":"SILK","w":2931,"a":21.4},{"s":"SILK","w":2876,"a":17.5},{"s":"SILK","w":2821,"a":14.5},{"s":"SILK","w":2710,"a":12.7},{"s":"SILK","w":2599,"a":10.9},{"s":"SILK","w":2378,"a":8.7},{"s":"SILK","w":2157,"a":9.0},{"s":"SILK","w":1847,"a":9.0},{"s":"SILK","w":1759,"a":11.5},{"s":"SILK","w":1726,"a":17.2},{"s":"SILK","w":1704,"a":32.2},{"s":"SILK","w":1675,"a":56.2},{"s":"SILK","w":1648,"a":75.7},{"s":"SILK","w":1619,"a":82.5},{"s":"SILK","w":1604,"a":69.7},{"s":"SILK","w":1578,"a":41.2},{"s":"SILK","w":1549,"a":60.7},{"s":"SILK","w":1511,"a":79.5},{"s":"SILK","w":1489,"a":65.2},{"s":"SILK","w":1465,"a":48.0},{"s":"SILK","w":1438,"a":55.5},{"s":"SILK","w":1416,"a":46.5},{"s":"SILK","w":1383,"a":42.7},{"s":"SILK","w":1350,"a":37.5},{"s":"SILK","w":1312,"a":37.5},{"s":"SILK","w":1283,"a":39.7},{"s":"SILK","w":1254,"a":49.5},{"s":"SILK","w":1223,"a":55.5},{"s":"SILK","w":1195,"a":43.5},{"s":"SILK","w":1161,"a":37.5},{"s":"SILK","w":1117,"a":30.7},{"s":"SILK","w":1084,"a":35.2},{"s":"SILK","w":1055,"a":39.0},{"s":"SILK","w":1029,"a":33.7},{"s":"SILK","w":984,"a":30.0},{"s":"SILK","w":940,"a":24.7},{"s":"SILK","w":896,"a":22.0},{"s":"SILK","w":852,"a":24.7},{"s":"SILK","w":797,"a":26.2},{"s":"SILK","w":752,"a":38.2},{"s":"SILK","w":708,"a":48.7},{"s":"SILK","w":664,"a":53.2},{"s":"SILK","w":619,"a":58.5},{"s":"SILK","w":597,"a":60.0},
{"s":"POLYAMIDE","t":"3298","tx":3312,"ty":41.4,"x1":3312,"y1":40.0,"x2":3296,"y2":33.7},
{"s":"POLYAMIDE","t":"2939","tx":2920,"ty":55.3,"x1":2960,"y1":54.2,"x2":2940,"y2":34.2},
{"s":"POLYAMIDE","t":"2866","tx":2637,"ty":37.7,"x1":2704,"y1":35.3,"x2":2861,"y2":27.5},
{"s":"POLYAMIDE","t":"1637","tx":1759,"ty":86.9,"x1":1688,"y1":85.2,"x2":1637,"y2":82.7},
{"s":"POLYAMIDE","t":"1539","tx":1449,"ty":76.7,"x1":1531,"y1":73.3,"x2":1535,"y2":66.3},
{"s":"POLYAMIDE","t":"1460","tx":1350,"ty":56.9,"x1":1438,"y1":53.5,"x2":1458,"y2":39.4},
{"s":"POLYAMIDE","t":"1201","tx":1217,"ty":43.1,"x1":1210,"y1":42.0,"x2":1197,"y2":31.9},
{"s":"POLYAMIDE","t":"1173","tx":878,"ty":33.6,"x1":1007,"y1":36.7,"x2":1168,"y2":31.0},
{"s":"POLYAMIDE","w":3993,"a":5.7},{"s":"POLYAMIDE","w":3883,"a":4.7},{"s":"POLYAMIDE","w":3761,"a":4.3},{"s":"POLYAMIDE","w":3673,"a":5.4},{"s":"POLYAMIDE","w":3595,"a":7.7},{"s":"POLYAMIDE","w":3529,"a":10.1},{"s":"POLYAMIDE","w":3451,"a":11.7},{"s":"POLYAMIDE","w":3396,"a":13.7},{"s":"POLYAMIDE","w":3363,"a":17.1},{"s":"POLYAMIDE","w":3334,"a":24.5},{"s":"POLYAMIDE","w":3312,"a":31.9},{"s":"POLYAMIDE","w":3296,"a":33.7},{"s":"POLYAMIDE","w":3274,"a":28.6},{"s":"POLYAMIDE","w":3246,"a":21.2},{"s":"POLYAMIDE","w":3208,"a":17.5},{"s":"POLYAMIDE","w":3175,"a":15.8},{"s":"POLYAMIDE","w":3135,"a":14.4},{"s":"POLYAMIDE","w":3108,"a":15.8},{"s":"POLYAMIDE","w":3082,"a":17.1},{"s":"POLYAMIDE","w":3053,"a":15.1},{"s":"POLYAMIDE","w":3009,"a":13.1},{"s":"POLYAMIDE","w":2980,"a":17.8},{"s":"POLYAMIDE","w":2958,"a":27.2},{"s":"POLYAMIDE","w":2940,"a":34.2},{"s":"POLYAMIDE","w":2920,"a":29.9},{"s":"POLYAMIDE","w":2892,"a":22.5},{"s":"POLYAMIDE","w":2876,"a":25.2},{"s":"POLYAMIDE","w":2861,"a":27.5},{"s":"POLYAMIDE","w":2843,"a":19.1},{"s":"POLYAMIDE","w":2810,"a":15.1},{"s":"POLYAMIDE","w":2754,"a":12.1},{"s":"POLYAMIDE","w":2666,"a":9.7},{"s":"POLYAMIDE","w":2533,"a":8.4},{"s":"POLYAMIDE","w":2378,"a":7.0},{"s":"POLYAMIDE","w":2157,"a":6.7},{"s":"POLYAMIDE","w":1936,"a":6.1},{"s":"POLYAMIDE","w":1825,"a":6.7},{"s":"POLYAMIDE","w":1759,"a":9.0},{"s":"POLYAMIDE","w":1719,"a":11.5},{"s":"POLYAMIDE","w":1697,"a":12.4},{"s":"POLYAMIDE","w":1675,"a":27.2},{"s":"POLYAMIDE","w":1653,"a":54.2},{"s":"POLYAMIDE","w":1637,"a":82.7},{"s":"POLYAMIDE","w":1622,"a":65.0},{"s":"POLYAMIDE","w":1604,"a":36.7},{"s":"POLYAMIDE","w":1586,"a":26.5},{"s":"POLYAMIDE","w":1564,"a":38.0},{"s":"POLYAMIDE","w":1546,"a":55.5},{"s":"POLYAMIDE","w":1535,"a":66.3},{"s":"POLYAMIDE","w":1520,"a":54.2},{"s":"POLYAMIDE","w":1502,"a":36.7},{"s":"POLYAMIDE","w":1484,"a":28.6},{"s":"POLYAMIDE","w":1471,"a":34.2},{"s":"POLYAMIDE","w":1458,"a":39.4},{"s":"POLYAMIDE","w":1445,"a":33.3},{"s":"POLYAMIDE","w":1427,"a":34.6},{"s":"POLYAMIDE","w":1409,"a":32.6},{"s":"POLYAMIDE","w":1392,"a":25.2},{"s":"POLYAMIDE","w":1367,"a":31.3},{"s":"POLYAMIDE","w":1338,"a":25.9},{"s":"POLYAMIDE","w":1294,"a":27.2},{"s":"POLYAMIDE","w":1272,"a":31.3},{"s":"POLYAMIDE","w":1257,"a":36.7},{"s":"POLYAMIDE","w":1239,"a":32.6},{"s":"POLYAMIDE","w":1217,"a":27.2},{"s":"POLYAMIDE","w":1197,"a":31.9},{"s":"POLYAMIDE","w":1184,"a":26.5},{"s":"POLYAMIDE","w":1168,"a":31.0},{"s":"POLYAMIDE","w":1150,"a":23.2},{"s":"POLYAMIDE","w":1135,"a":19.1},{"s":"POLYAMIDE","w":1113,"a":21.8},{"s":"POLYAMIDE","w":1084,"a":18.5},{"s":"POLYAMIDE","w":1051,"a":18.5},{"s":"POLYAMIDE","w":1007,"a":16.4},{"s":"POLYAMIDE","w":962,"a":19.1},{"s":"POLYAMIDE","w":918,"a":16.4},{"s":"POLYAMIDE","w":878,"a":15.5},{"s":"POLYAMIDE","w":841,"a":14.8},{"s":"POLYAMIDE","w":808,"a":17.8},{"s":"POLYAMIDE","w":768,"a":23.2},{"s":"POLYAMIDE","w":737,"a":29.9},{"s":"POLYAMIDE","w":719,"a":35.3},{"s":"POLYAMIDE","w":697,"a":42.0},{"s":"POLYAMIDE","w":675,"a":44.7},{"s":"POLYAMIDE","w":648,"a":40.0},{"s":"POLYAMIDE","w":619,"a":34.6},{"s":"POLYAMIDE","w":597,"a":34.0},
{"s":"COTTON","t":"3336","tx":3352,"ty":37.8,"x1":3345,"y1":36.5,"x2":3334,"y2":30.0},
{"s":"COTTON","t":"2920","tx":2883,"ty":38.4,"x1":2898,"y1":37.4,"x2":2916,"y2":22.2},
{"s":"COTTON","t":"1732","tx":1737,"ty":28.9,"x1":1730,"y1":27.3,"x2":1721,"y2":16.5},
{"s":"COTTON","t":"1034","tx":1013,"ty":88.1,"x1":1013,"y1":87.0,"x2":1018,"y2":83.4},
{"s":"COTTON","t":"1055","tx":1217,"ty":60.4,"x1":1217,"y1":58.4,"x2":1084,"y2":52.3},
{"s":"COTTON","t":"903","tx":819,"ty":42.2,"x1":819,"y1":38.8,"x2":885,"y2":29.7},
{"s":"COTTON","w":3993,"a":5.7},{"s":"COTTON","w":3861,"a":4.6},{"s":"COTTON","w":3750,"a":4.3},{"s":"COTTON","w":3661,"a":6.4},{"s":"COTTON","w":3595,"a":10.4},{"s":"COTTON","w":3529,"a":15.1},{"s":"COTTON","w":3462,"a":20.5},{"s":"COTTON","w":3396,"a":25.9},{"s":"COTTON","w":3334,"a":30.0},{"s":"COTTON","w":3274,"a":28.2},{"s":"COTTON","w":3208,"a":22.6},{"s":"COTTON","w":3142,"a":17.8},{"s":"COTTON","w":3064,"a":14.9},{"s":"COTTON","w":3002,"a":13.1},{"s":"COTTON","w":2953,"a":18.1},{"s":"COTTON","w":2916,"a":22.2},{"s":"COTTON","w":2854,"a":19.9},{"s":"COTTON","w":2816,"a":14.9},{"s":"COTTON","w":2710,"a":13.5},{"s":"COTTON","w":2533,"a":11.4},{"s":"COTTON","w":2356,"a":9.3},{"s":"COTTON","w":2268,"a":10.0},{"s":"COTTON","w":2046,"a":10.3},{"s":"COTTON","w":1825,"a":9.5},{"s":"COTTON","w":1759,"a":10.0},{"s":"COTTON","w":1737,"a":11.8},{"s":"COTTON","w":1721,"a":16.5},{"s":"COTTON","w":1704,"a":12.4},{"s":"COTTON","w":1648,"a":15.4},{"s":"COTTON","w":1582,"a":14.5},{"s":"COTTON","w":1504,"a":13.1},{"s":"COTTON","w":1471,"a":17.8},{"s":"COTTON","w":1445,"a":22.2},{"s":"COTTON","w":1416,"a":24.6},{"s":"COTTON","w":1383,"a":22.2},{"s":"COTTON","w":1356,"a":27.3},{"s":"COTTON","w":1327,"a":29.3},{"s":"COTTON","w":1305,"a":32.0},{"s":"COTTON","w":1283,"a":25.3},{"s":"COTTON","w":1250,"a":26.6},{"s":"COTTON","w":1228,"a":25.7},{"s":"COTTON","w":1201,"a":22.6},{"s":"COTTON","w":1179,"a":25.3},{"s":"COTTON","w":1166,"a":22.6},{"s":"COTTON","w":1150,"a":36.1},{"s":"COTTON","w":1128,"a":32.0},{"s":"COTTON","w":1106,"a":42.2},{"s":"COTTON","w":1091,"a":53.0},{"s":"COTTON","w":1077,"a":50.9},{"s":"COTTON","w":1062,"a":62.4},{"s":"COTTON","w":1046,"a":78.6},{"s":"COTTON","w":1033,"a":79.3},{"s":"COTTON","w":1018,"a":83.4},{"s":"COTTON","w":1001,"a":76.6},{"s":"COTTON","w":984,"a":71.9},{"s":"COTTON","w":962,"a":57.0},{"s":"COTTON","w":940,"a":38.1},{"s":"COTTON","w":918,"a":30.3},{"s":"COTTON","w":900,"a":27.3},{"s":"COTTON","w":885,"a":29.7},{"s":"COTTON","w":863,"a":24.6},{"s":"COTTON","w":836,"a":21.2},{"s":"COTTON","w":796,"a":23.5},{"s":"COTTON","w":763,"a":23.9},{"s":"COTTON","w":726,"a":29.3},{"s":"COTTON","w":693,"a":38.4},{"s":"COTTON","w":675,"a":39.5},{"s":"COTTON","w":653,"a":47.6},{"s":"COTTON","w":635,"a":43.5},{"s":"COTTON","w":613,"a":48.9},{"s":"COTTON","w":597,"a":51.4},
{"s":"VISCOSE","t":"3344","tx":3312,"ty":30.1,"x1":3319,"y1":29.6,"x2":3319,"y2":25.9},
{"s":"VISCOSE","t":"2895","tx":2883,"ty":23.9,"x1":2887,"y1":22.9,"x2":2887,"y2":18.9},
{"s":"VISCOSE","t":"1022","tx":1007,"ty":88.7,"x1":1007,"y1":87.6,"x2":1011,"y2":82.9},
{"s":"VISCOSE","t":"1157","tx":1276,"ty":35.7,"x1":1272,"y1":33.7,"x2":1146,"y2":28.3},
{"s":"VISCOSE","t":"897","tx":852,"ty":41.1,"x1":818,"y1":40.4,"x2":880,"y2":30.3},
{"s":"VISCOSE","w":3993,"a":4.4},{"s":"VISCOSE","w":3861,"a":3.8},{"s":"VISCOSE","w":3728,"a":4.0},{"s":"VISCOSE","w":3661,"a":6.1},{"s":"VISCOSE","w":3595,"a":9.4},{"s":"VISCOSE","w":3518,"a":14.8},{"s":"VISCOSE","w":3440,"a":22.9},{"s":"VISCOSE","w":3385,"a":24.9},{"s":"VISCOSE","w":3330,"a":25.9},{"s":"VISCOSE","w":3274,"a":25.2},{"s":"VISCOSE","w":3208,"a":22.9},{"s":"VISCOSE","w":3142,"a":18.9},{"s":"VISCOSE","w":3064,"a":14.2},{"s":"VISCOSE","w":2998,"a":12.4},{"s":"VISCOSE","w":2953,"a":14.8},{"s":"VISCOSE","w":2887,"a":18.9},{"s":"VISCOSE","w":2832,"a":14.2},{"s":"VISCOSE","w":2777,"a":12.1},{"s":"VISCOSE","w":2666,"a":10.5},{"s":"VISCOSE","w":2533,"a":8.8},{"s":"VISCOSE","w":2334,"a":7.0},{"s":"VISCOSE","w":2135,"a":7.7},{"s":"VISCOSE","w":2002,"a":7.3},{"s":"VISCOSE","w":1869,"a":6.5},{"s":"VISCOSE","w":1737,"a":7.1},{"s":"VISCOSE","w":1681,"a":10.5},{"s":"VISCOSE","w":1630,"a":12.8},{"s":"VISCOSE","w":1582,"a":10.1},{"s":"VISCOSE","w":1527,"a":9.7},{"s":"VISCOSE","w":1493,"a":11.5},{"s":"VISCOSE","w":1449,"a":17.5},{"s":"VISCOSE","w":1405,"a":19.5},{"s":"VISCOSE","w":1383,"a":19.5},{"s":"VISCOSE","w":1356,"a":23.6},{"s":"VISCOSE","w":1334,"a":22.2},{"s":"VISCOSE","w":1299,"a":23.2},{"s":"VISCOSE","w":1272,"a":19.5},{"s":"VISCOSE","w":1250,"a":21.3},{"s":"VISCOSE","w":1228,"a":20.2},{"s":"VISCOSE","w":1201,"a":17.5},{"s":"VISCOSE","w":1179,"a":16.8},{"s":"VISCOSE","w":1161,"a":20.2},{"s":"VISCOSE","w":1146,"a":28.3},{"s":"VISCOSE","w":1133,"a":27.0},{"s":"VISCOSE","w":1106,"a":41.8},{"s":"VISCOSE","w":1073,"a":58.0},{"s":"VISCOSE","w":1040,"a":70.8},{"s":"VISCOSE","w":1011,"a":82.9},{"s":"VISCOSE","w":989,"a":73.5},{"s":"VISCOSE","w":973,"a":66.0},{"s":"VISCOSE","w":951,"a":43.1},{"s":"VISCOSE","w":923,"a":29.0},{"s":"VISCOSE","w":903,"a":24.9},{"s":"VISCOSE","w":880,"a":30.3},{"s":"VISCOSE","w":863,"a":21.6},{"s":"VISCOSE","w":841,"a":19.5},{"s":"VISCOSE","w":785,"a":21.6},{"s":"VISCOSE","w":741,"a":26.3},{"s":"VISCOSE","w":708,"a":29.0},{"s":"VISCOSE","w":675,"a":31.0},{"s":"VISCOSE","w":653,"a":40.4},{"s":"VISCOSE","w":631,"a":39.8},{"s":"VISCOSE","w":608,"a":45.1},{"s":"VISCOSE","w":595,"a":45.8},
{"s":"ACETATE","t":"1738","tx":1726,"ty":57.1,"x1":1737,"y1":56.2,"x2":1737,"y2":52.8},
{"s":"ACETATE","t":"1367","tx":1449,"ty":41.0,"x1":1431,"y1":39.4,"x2":1365,"y2":33.3},
{"s":"ACETATE","t":"1219","tx":1217,"ty":79.8,"x1":1217,"y1":78.4,"x2":1217,"y2":74.4},
{"s":"ACETATE","t":"1036","tx":918,"ty":88.1,"x1":918,"y1":85.8,"x2":1033,"y2":81.8},
{"s":"ACETATE","t":"901","tx":818,"ty":41.8,"x1":823,"y1":39.4,"x2":900,"y2":29.9},
{"s":"ACETATE","w":3993,"a":4.6},{"s":"ACETATE","w":3861,"a":3.6},{"s":"ACETATE","w":3695,"a":4.3},{"s":"ACETATE","w":3639,"a":7.0},{"s":"ACETATE","w":3562,"a":9.0},{"s":"ACETATE","w":3496,"a":10.0},{"s":"ACETATE","w":3418,"a":9.0},{"s":"ACETATE","w":3285,"a":7.3},{"s":"ACETATE","w":3153,"a":6.3},{"s":"ACETATE","w":3064,"a":7.7},{"s":"ACETATE","w":2998,"a":9.0},{"s":"ACETATE","w":2949,"a":10.4},{"s":"ACETATE","w":2925,"a":9.0},{"s":"ACETATE","w":2887,"a":10.0},{"s":"ACETATE","w":2854,"a":8.1},{"s":"ACETATE","w":2754,"a":7.0},{"s":"ACETATE","w":2533,"a":5.4},{"s":"ACETATE","w":2312,"a":5.4},{"s":"ACETATE","w":2179,"a":6.3},{"s":"ACETATE","w":2124,"a":7.3},{"s":"ACETATE","w":2069,"a":6.3},{"s":"ACETATE","w":1914,"a":6.3},{"s":"ACETATE","w":1825,"a":7.7},{"s":"ACETATE","w":1785,"a":12.4},{"s":"ACETATE","w":1763,"a":27.2},{"s":"ACETATE","w":1737,"a":52.8},{"s":"ACETATE","w":1715,"a":34.0},{"s":"ACETATE","w":1692,"a":16.4},{"s":"ACETATE","w":1659,"a":11.7},{"s":"ACETATE","w":1582,"a":8.4},{"s":"ACETATE","w":1493,"a":8.4},{"s":"ACETATE","w":1453,"a":12.4},{"s":"ACETATE","w":1431,"a":16.7},{"s":"ACETATE","w":1405,"a":13.7},{"s":"ACETATE","w":1383,"a":17.8},{"s":"ACETATE","w":1365,"a":32.6},{"s":"ACETATE","w":1350,"a":15.1},{"s":"ACETATE","w":1316,"a":14.4},{"s":"ACETATE","w":1277,"a":20.5},{"s":"ACETATE","w":1245,"a":51.5},{"s":"ACETATE","w":1217,"a":74.4},{"s":"ACETATE","w":1195,"a":47.4},{"s":"ACETATE","w":1177,"a":26.5},{"s":"ACETATE","w":1161,"a":27.9},{"s":"ACETATE","w":1139,"a":25.9},{"s":"ACETATE","w":1106,"a":30.6},{"s":"ACETATE","w":1073,"a":58.2},{"s":"ACETATE","w":1033,"a":81.8},{"s":"ACETATE","w":1007,"a":63.6},{"s":"ACETATE","w":973,"a":36.7},{"s":"ACETATE","w":929,"a":21.6},{"s":"ACETATE","w":900,"a":29.9},{"s":"ACETATE","w":874,"a":19.1},{"s":"ACETATE","w":852,"a":15.8},{"s":"ACETATE","w":836,"a":18.1},{"s":"ACETATE","w":808,"a":11.1},{"s":"ACETATE","w":763,"a":9.7},{"s":"ACETATE","w":726,"a":12.4},{"s":"ACETATE","w":675,"a":16.2},{"s":"ACETATE","w":642,"a":19.1},{"s":"ACETATE","w":613,"a":24.5},{"s":"ACETATE","w":597,"a":28.6},
{"s":"POLYESTER","t":"2973","tx":3091,"ty":22.7,"x1":3082,"y1":20.0,"x2":2953,"y2":9.5},
{"s":"POLYESTER","t":"2910","tx":2677,"ty":19.6,"x1":2816,"y1":18.9,"x2":2920,"y2":7.0},
{"s":"POLYESTER","t":"1714","tx":1697,"ty":85.4,"x1":1710,"y1":84.5,"x2":1710,"y2":81.1},
{"s":"POLYESTER","t":"1408","tx":1509,"ty":34.1,"x1":1471,"y1":32.4,"x2":1400,"y2":26.4},
{"s":"POLYESTER","t":"1338","tx":1431,"ty":53.4,"x1":1356,"y1":51.6,"x2":1330,"y2":28.4},
{"s":"POLYESTER","t":"1246","tx":1239,"ty":86.8,"x1":1239,"y1":85.1,"x2":1239,"y2":80.4},
{"s":"POLYESTER","t":"1097","tx":973,"ty":73.9,"x1":1062,"y1":70.9,"x2":1089,"y2":69.6},
{"s":"POLYESTER","t":"723","tx":763,"ty":89.9,"x1":712,"y1":88.5,"x2":714,"y2":81.1},
{"s":"POLYESTER","w":3993,"a":3.4},{"s":"POLYESTER","w":3861,"a":3.0},{"s":"POLYESTER","w":3706,"a":2.7},{"s":"POLYESTER","w":3639,"a":3.8},{"s":"POLYESTER","w":3562,"a":4.7},{"s":"POLYESTER","w":3485,"a":4.3},{"s":"POLYESTER","w":3434,"a":7.0},{"s":"POLYESTER","w":3396,"a":4.7},{"s":"POLYESTER","w":3263,"a":5.1},{"s":"POLYESTER","w":3153,"a":5.7},{"s":"POLYESTER","w":3097,"a":7.8},{"s":"POLYESTER","w":3064,"a":7.8},{"s":"POLYESTER","w":3038,"a":6.5},{"s":"POLYESTER","w":2998,"a":8.8},{"s":"POLYESTER","w":2965,"a":10.1},{"s":"POLYESTER","w":2931,"a":6.1},{"s":"POLYESTER","w":2905,"a":8.4},{"s":"POLYESTER","w":2854,"a":6.1},{"s":"POLYESTER","w":2754,"a":5.1},{"s":"POLYESTER","w":2666,"a":4.3},{"s":"POLYESTER","w":2555,"a":5.4},{"s":"POLYESTER","w":2467,"a":4.5},{"s":"POLYESTER","w":2389,"a":5.7},{"s":"POLYESTER","w":2334,"a":4.3},{"s":"POLYESTER","w":2279,"a":5.4},{"s":"POLYESTER","w":2168,"a":4.3},{"s":"POLYESTER","w":2091,"a":6.1},{"s":"POLYESTER","w":2024,"a":4.7},{"s":"POLYESTER","w":1958,"a":7.8},{"s":"POLYESTER","w":1914,"a":5.4},{"s":"POLYESTER","w":1874,"a":5.1},{"s":"POLYESTER","w":1830,"a":7.8},{"s":"POLYESTER","w":1759,"a":8.1},{"s":"POLYESTER","w":1741,"a":17.6},{"s":"POLYESTER","w":1726,"a":54.1},{"s":"POLYESTER","w":1710,"a":81.1},{"s":"POLYESTER","w":1697,"a":54.1},{"s":"POLYESTER","w":1681,"a":25.7},{"s":"POLYESTER","w":1653,"a":13.5},{"s":"POLYESTER","w":1626,"a":11.5},{"s":"POLYESTER","w":1604,"a":12.4},{"s":"POLYESTER","w":1578,"a":10.8},{"s":"POLYESTER","w":1549,"a":9.2},{"s":"POLYESTER","w":1515,"a":10.1},{"s":"POLYESTER","w":1498,"a":14.9},{"s":"POLYESTER","w":1476,"a":10.8},{"s":"POLYESTER","w":1460,"a":15.1},{"s":"POLYESTER","w":1431,"a":13.5},{"s":"POLYESTER","w":1414,"a":10.5},{"s":"POLYESTER","w":1400,"a":26.4},{"s":"POLYESTER","w":1387,"a":15.9},{"s":"POLYESTER","w":1356,"a":12.2},{"s":"POLYESTER","w":1343,"a":18.9},{"s":"POLYESTER","w":1330,"a":28.4},{"s":"POLYESTER","w":1316,"a":14.9},{"s":"POLYESTER","w":1294,"a":22.3},{"s":"POLYESTER","w":1272,"a":47.3},{"s":"POLYESTER","w":1254,"a":68.9},{"s":"POLYESTER","w":1239,"a":80.4},{"s":"POLYESTER","w":1223,"a":60.8},{"s":"POLYESTER","w":1206,"a":35.1},{"s":"POLYESTER","w":1179,"a":20.3},{"s":"POLYESTER","w":1161,"a":17.8},{"s":"POLYESTER","w":1139,"a":18.9},{"s":"POLYESTER","w":1117,"a":35.1},{"s":"POLYESTER","w":1104,"a":52.7},{"s":"POLYESTER","w":1089,"a":69.6},{"s":"POLYESTER","w":1073,"a":60.8},{"s":"POLYESTER","w":1055,"a":25.7},{"s":"POLYESTER","w":1033,"a":22.3},{"s":"POLYESTER","w":1020,"a":29.7},{"s":"POLYESTER","w":1009,"a":42.6},{"s":"POLYESTER","w":998,"a":22.3},{"s":"POLYESTER","w":973,"a":18.9},{"s":"POLYESTER","w":958,"a":22.3},{"s":"POLYESTER","w":940,"a":17.6},{"s":"POLYESTER","w":907,"a":14.2},{"s":"POLYESTER","w":885,"a":16.2},{"s":"POLYESTER","w":867,"a":35.8},{"s":"POLYESTER","w":852,"a":24.3},{"s":"POLYESTER","w":834,"a":23.0},{"s":"POLYESTER","w":808,"a":16.2},{"s":"POLYESTER","w":785,"a":18.9},{"s":"POLYESTER","w":768,"a":13.5},{"s":"POLYESTER","w":741,"a":12.2},{"s":"POLYESTER","w":728,"a":24.3},{"s":"POLYESTER","w":714,"a":81.1},{"s":"POLYESTER","w":701,"a":51.4},{"s":"POLYESTER","w":686,"a":20.9},{"s":"POLYESTER","w":664,"a":16.2},{"s":"POLYESTER","w":635,"a":13.2},{"s":"POLYESTER","w":613,"a":12.2},{"s":"POLYESTER","w":597,"a":11.5},
{"s":"POLYACRYLIC","t":"2928","tx":2920,"ty":50.4,"x1":2927,"y1":49.5,"x2":2927,"y2":46.1},
{"s":"POLYACRYLIC","t":"2243","tx":2241,"ty":64.0,"x1":2243,"y1":62.9,"x2":2243,"y2":58.9},
{"s":"POLYACRYLIC","t":"1730","tx":1785,"ty":74.7,"x1":1763,"y1":73.3,"x2":1737,"y2":70.4},
{"s":"POLYACRYLIC","t":"1450","tx":1449,"ty":85.2,"x1":1445,"y1":83.8,"x2":1445,"y2":79.1},
{"s":"POLYACRYLIC","t":"1232","tx":1113,"ty":74.7,"x1":1195,"y1":73.3,"x2":1228,"y2":70.6},
{"s":"POLYACRYLIC","w":3993,"a":5.9},{"s":"POLYACRYLIC","w":3927,"a":4.3},{"s":"POLYACRYLIC","w":3861,"a":3.0},{"s":"POLYACRYLIC","w":3805,"a":4.3},{"s":"POLYACRYLIC","w":3754,"a":2.3},{"s":"POLYACRYLIC","w":3706,"a":4.3},{"s":"POLYACRYLIC","w":3673,"a":6.3},{"s":"POLYACRYLIC","w":3639,"a":9.7},{"s":"POLYACRYLIC","w":3595,"a":9.4},{"s":"POLYACRYLIC","w":3540,"a":11.1},{"s":"POLYACRYLIC","w":3462,"a":10.4},{"s":"POLYACRYLIC","w":3396,"a":11.1},{"s":"POLYACRYLIC","w":3330,"a":13.5},{"s":"POLYACRYLIC","w":3263,"a":14.4},{"s":"POLYACRYLIC","w":3197,"a":13.7},{"s":"POLYACRYLIC","w":3153,"a":12.7},{"s":"POLYACRYLIC","w":3097,"a":15.1},{"s":"POLYACRYLIC","w":3042,"a":19.1},{"s":"POLYACRYLIC","w":2998,"a":25.9},{"s":"POLYACRYLIC","w":2965,"a":34.0},{"s":"POLYACRYLIC","w":2942,"a":43.4},{"s":"POLYACRYLIC","w":2927,"a":46.1},{"s":"POLYACRYLIC","w":2909,"a":39.4},{"s":"POLYACRYLIC","w":2892,"a":26.5},{"s":"POLYACRYLIC","w":2869,"a":27.2},{"s":"POLYACRYLIC","w":2854,"a":25.2},{"s":"POLYACRYLIC","w":2838,"a":15.8},{"s":"POLYACRYLIC","w":2810,"a":13.1},{"s":"POLYACRYLIC","w":2777,"a":10.4},{"s":"POLYACRYLIC","w":2688,"a":11.1},{"s":"POLYACRYLIC","w":2599,"a":10.8},{"s":"POLYACRYLIC","w":2533,"a":11.5},{"s":"POLYACRYLIC","w":2445,"a":10.0},{"s":"POLYACRYLIC","w":2378,"a":9.7},{"s":"POLYACRYLIC","w":2361,"a":7.0},{"s":"POLYACRYLIC","w":2345,"a":9.0},{"s":"POLYACRYLIC","w":2323,"a":8.4},{"s":"POLYACRYLIC","w":2279,"a":10.4},{"s":"POLYACRYLIC","w":2261,"a":19.1},{"s":"POLYACRYLIC","w":2250,"a":36.7},{"s":"POLYACRYLIC","w":2243,"a":58.9},{"s":"POLYACRYLIC","w":2234,"a":36.7},{"s":"POLYACRYLIC","w":2223,"a":13.7},{"s":"POLYACRYLIC","w":2197,"a":9.0},{"s":"POLYACRYLIC","w":2168,"a":7.0},{"s":"POLYACRYLIC","w":2046,"a":7.3},{"s":"POLYACRYLIC","w":1914,"a":6.3},{"s":"POLYACRYLIC","w":1825,"a":7.7},{"s":"POLYACRYLIC","w":1785,"a":9.7},{"s":"POLYACRYLIC","w":1770,"a":13.7},{"s":"POLYACRYLIC","w":1754,"a":36.7},{"s":"POLYACRYLIC","w":1737,"a":70.4},{"s":"POLYACRYLIC","w":1719,"a":56.9},{"s":"POLYACRYLIC","w":1704,"a":29.9},{"s":"POLYACRYLIC","w":1688,"a":23.9},{"s":"POLYACRYLIC","w":1666,"a":28.6},{"s":"POLYACRYLIC","w":1644,"a":24.5},{"s":"POLYACRYLIC","w":1615,"a":22.5},{"s":"POLYACRYLIC","w":1582,"a":21.2},{"s":"POLYACRYLIC","w":1555,"a":19.8},{"s":"POLYACRYLIC","w":1531,"a":23.9},{"s":"POLYACRYLIC","w":1504,"a":21.2},{"s":"POLYACRYLIC","w":1482,"a":25.9},{"s":"POLYACRYLIC","w":1465,"a":43.4},{"s":"POLYACRYLIC","w":1445,"a":79.1},{"s":"POLYACRYLIC","w":1427,"a":50.1},{"s":"POLYACRYLIC","w":1405,"a":29.9},{"s":"POLYACRYLIC","w":1387,"a":36.0},{"s":"POLYACRYLIC","w":1361,"a":49.1},{"s":"POLYACRYLIC","w":1334,"a":43.4},{"s":"POLYACRYLIC","w":1305,"a":40.0},{"s":"POLYACRYLIC","w":1272,"a":42.7},{"s":"POLYACRYLIC","w":1254,"a":51.5},{"s":"POLYACRYLIC","w":1228,"a":70.6},{"s":"POLYACRYLIC","w":1206,"a":63.6},{"s":"POLYACRYLIC","w":1184,"a":54.2},{"s":"POLYACRYLIC","w":1166,"a":52.8},{"s":"POLYACRYLIC","w":1150,"a":42.0},{"s":"POLYACRYLIC","w":1135,"a":29.9},{"s":"POLYACRYLIC","w":1113,"a":36.7},{"s":"POLYACRYLIC","w":1091,"a":41.4},{"s":"POLYACRYLIC","w":1062,"a":54.9},{"s":"POLYACRYLIC","w":1046,"a":50.1},{"s":"POLYACRYLIC","w":1029,"a":43.4},{"s":"POLYACRYLIC","w":995,"a":34.0},{"s":"POLYACRYLIC","w":951,"a":32.6},{"s":"POLYACRYLIC","w":896,"a":26.5},{"s":"POLYACRYLIC","w":852,"a":25.9},{"s":"POLYACRYLIC","w":830,"a":31.3},{"s":"POLYACRYLIC","w":797,"a":23.9},{"s":"POLYACRYLIC","w":774,"a":31.9},{"s":"POLYACRYLIC","w":752,"a":34.6},{"s":"POLYACRYLIC","w":723,"a":29.9},{"s":"POLYACRYLIC","w":697,"a":28.6},{"s":"POLYACRYLIC","w":664,"a":32.6},{"s":"POLYACRYLIC","w":631,"a":34.0},{"s":"POLYACRYLIC","w":597,"a":33.3},
{"s":"POLYETHYLENE","t":"2916","tx":3075,"ty":86.1,"x1":3064,"y1":85.2,"x2":2918,"y2":81.1},
{"s":"POLYETHYLENE","t":"2848","tx":2688,"ty":79.1,"x1":2703,"y1":76.7,"x2":2847,"y2":73.5},
{"s":"POLYETHYLENE","t":"1471","tx":1465,"ty":56.1,"x1":1467,"y1":55.0,"x2":1467,"y2":50.3},
{"s":"POLYETHYLENE","t":"717","tx":763,"ty":54.8,"x1":712,"y1":52.8,"x2":712,"y2":48.1},
{"s":"POLYETHYLENE","w":3993,"a":5.6},{"s":"POLYETHYLENE","w":3905,"a":5.5},{"s":"POLYETHYLENE","w":3850,"a":4.6},{"s":"POLYETHYLENE","w":3816,"a":4.9},{"s":"POLYETHYLENE","w":3750,"a":3.4},{"s":"POLYETHYLENE","w":3684,"a":4.7},{"s":"POLYETHYLENE","w":3595,"a":4.7},{"s":"POLYETHYLENE","w":3485,"a":5.2},{"s":"POLYETHYLENE","w":3374,"a":5.6},{"s":"POLYETHYLENE","w":3263,"a":5.6},{"s":"POLYETHYLENE","w":3153,"a":5.8},{"s":"POLYETHYLENE","w":3097,"a":7.9},{"s":"POLYETHYLENE","w":3042,"a":9.2},{"s":"POLYETHYLENE","w":2998,"a":11.0},{"s":"POLYETHYLENE","w":2965,"a":14.6},{"s":"POLYETHYLENE","w":2947,"a":23.5},{"s":"POLYETHYLENE","w":2931,"a":50.3},{"s":"POLYETHYLENE","w":2918,"a":81.1},{"s":"POLYETHYLENE","w":2905,"a":54.6},{"s":"POLYETHYLENE","w":2887,"a":36.0},{"s":"POLYETHYLENE","w":2869,"a":26.2},{"s":"POLYETHYLENE","w":2858,"a":41.4},{"s":"POLYETHYLENE","w":2847,"a":73.5},{"s":"POLYETHYLENE","w":2832,"a":32.4},{"s":"POLYETHYLENE","w":2810,"a":19.0},{"s":"POLYETHYLENE","w":2765,"a":13.7},{"s":"POLYETHYLENE","w":2710,"a":10.5},{"s":"POLYETHYLENE","w":2644,"a":11.4},{"s":"POLYETHYLENE","w":2578,"a":7.9},{"s":"POLYETHYLENE","w":2489,"a":6.3},{"s":"POLYETHYLENE","w":2378,"a":5.2},{"s":"POLYETHYLENE","w":2345,"a":6.7},{"s":"POLYETHYLENE","w":2268,"a":5.6},{"s":"POLYETHYLENE","w":2157,"a":4.9},{"s":"POLYETHYLENE","w":2046,"a":4.7},{"s":"POLYETHYLENE","w":2020,"a":6.1},{"s":"POLYETHYLENE","w":1991,"a":4.6},{"s":"POLYETHYLENE","w":1914,"a":4.7},{"s":"POLYETHYLENE","w":1896,"a":5.6},{"s":"POLYETHYLENE","w":1847,"a":3.8},{"s":"POLYETHYLENE","w":1770,"a":4.7},{"s":"POLYETHYLENE","w":1737,"a":7.0},{"s":"POLYETHYLENE","w":1670,"a":7.4},{"s":"POLYETHYLENE","w":1604,"a":8.5},{"s":"POLYETHYLENE","w":1538,"a":7.9},{"s":"POLYETHYLENE","w":1498,"a":9.2},{"s":"POLYETHYLENE","w":1482,"a":15.5},{"s":"POLYETHYLENE","w":1467,"a":50.3},{"s":"POLYETHYLENE","w":1453,"a":18.1},{"s":"POLYETHYLENE","w":1427,"a":8.3},{"s":"POLYETHYLENE","w":1394,"a":9.2},{"s":"POLYETHYLENE","w":1361,"a":10.5},{"s":"POLYETHYLENE","w":1334,"a":8.3},{"s":"POLYETHYLENE","w":1299,"a":9.7},{"s":"POLYETHYLENE","w":1250,"a":9.2},{"s":"POLYETHYLENE","w":1195,"a":7.9},{"s":"POLYETHYLENE","w":1139,"a":9.7},{"s":"POLYETHYLENE","w":1084,"a":10.5},{"s":"POLYETHYLENE","w":1029,"a":9.2},{"s":"POLYETHYLENE","w":984,"a":8.1},{"s":"POLYETHYLENE","w":896,"a":8.8},{"s":"POLYETHYLENE","w":808,"a":8.5},{"s":"POLYETHYLENE","w":763,"a":8.8},{"s":"POLYETHYLENE","w":737,"a":11.0},{"s":"POLYETHYLENE","w":723,"a":23.5},{"s":"POLYETHYLENE","w":712,"a":48.1},{"s":"POLYETHYLENE","w":701,"a":23.5},{"s":"POLYETHYLENE","w":686,"a":11.0},{"s":"POLYETHYLENE","w":653,"a":9.2},{"s":"POLYETHYLENE","w":619,"a":8.8},{"s":"POLYETHYLENE","w":597,"a":8.3}
]
},
"vconcat": [
 {"hconcat": [
  {"width": 1756, "height": 437,
   "title": {"text": "r-FT-IR", "dx": -49, "offset": 14},
   "data": {"name": "R"},
   "transform": [{"filter": "datum.s == 'WOOL'"}],
   "layer": [
    {"transform": [{"filter": "isValid(datum.a)"}], "mark": {"type": "line", "color": "black", "strokeWidth": 3.5, "clip": true},
     "encoding": {"x": {"field": "w", "type": "quantitative", "scale": {"domain": [578, 4815], "reverse": true, "nice": false, "zero": false}, "axis": null},
                  "y": {"field": "a", "type": "quantitative", "scale": {"domain": [0, 100], "nice": false}, "axis": null}}},
    {"transform": [{"filter": "isValid(datum.t)"}], "mark": {"type": "rule", "color": "black", "strokeWidth": 1.5, "clip": true},
     "encoding": {"x": {"field": "x1", "type": "quantitative", "scale": {"domain": [578, 4815], "reverse": true, "nice": false, "zero": false}, "axis": null},
                  "y": {"field": "y1", "type": "quantitative", "scale": {"domain": [0, 100], "nice": false}, "axis": null},
                  "x2": {"field": "x2"}, "y2": {"field": "y2"}}},
    {"transform": [{"filter": "isValid(datum.t)"}], "mark": {"type": "text", "fontSize": 46, "align": "center", "baseline": "alphabetic", "clip": true},
     "encoding": {"x": {"field": "tx", "type": "quantitative", "scale": {"domain": [578, 4815], "reverse": true, "nice": false, "zero": false}, "axis": null},
                  "y": {"field": "ty", "type": "quantitative", "scale": {"domain": [0, 100], "nice": false}, "axis": null},
                  "text": {"field": "t"}}},
    {"transform": [{"filter": "isValid(datum.n)"}], "mark": {"type": "text", "fontSize": 80, "align": "left", "baseline": "alphabetic", "clip": true},
     "encoding": {"x": {"field": "tx", "type": "quantitative", "scale": {"domain": [578, 4815], "reverse": true, "nice": false, "zero": false}, "axis": null},
                  "y": {"field": "ty", "type": "quantitative", "scale": {"domain": [0, 100], "nice": false}, "axis": null},
                  "text": {"field": "n"}}}
   ]},
  {"width": 1417, "height": 437,
   "title": {"text": "mATR-FT-IR", "dx": -147, "offset": 14},
   "data": {"name": "M"},
   "transform": [{"filter": "datum.s == 'WOOL'"}],
   "layer": [
    {"transform": [{"filter": "isValid(datum.a)"}], "mark": {"type": "line", "color": "black", "strokeWidth": 4, "clip": true},
     "encoding": {"x": {"field": "w", "type": "quantitative", "scale": {"domain": [590, 4006], "reverse": true, "nice": false, "zero": false}, "axis": null},
                  "y": {"field": "a", "type": "quantitative", "scale": {"domain": [0, 100], "nice": false}, "axis": null}}},
    {"transform": [{"filter": "isValid(datum.t)"}], "mark": {"type": "rule", "color": "black", "strokeWidth": 1.5, "clip": true},
     "encoding": {"x": {"field": "x1", "type": "quantitative", "scale": {"domain": [590, 4006], "reverse": true, "nice": false, "zero": false}, "axis": null},
                  "y": {"field": "y1", "type": "quantitative", "scale": {"domain": [0, 100], "nice": false}, "axis": null},
                  "x2": {"field": "x2"}, "y2": {"field": "y2"}}},
    {"transform": [{"filter": "isValid(datum.t)"}], "mark": {"type": "text", "fontSize": 46, "align": "center", "baseline": "alphabetic", "clip": true},
     "encoding": {"x": {"field": "tx", "type": "quantitative", "scale": {"domain": [590, 4006], "reverse": true, "nice": false, "zero": false}, "axis": null},
                  "y": {"field": "ty", "type": "quantitative", "scale": {"domain": [0, 100], "nice": false}, "axis": null},
                  "text": {"field": "t"}}}
   ]}
 ]},
 {"hconcat": [
  {"data": {"name": "R"},
   "transform": [{"filter": "datum.s != 'WOOL'"}],
   "facet": {"row": {"field": "s", "type": "nominal", "header": null, "sort": ["SILK","POLYAMIDE","COTTON","VISCOSE","ACETATE","POLYESTER","POLYACRYLIC","POLYETHYLENE"]}},
   "spacing": 0,
   "spec": {
    "width": 1756, "height": 393.8,
    "layer": [
     {"transform": [{"filter": "isValid(datum.a)"}], "mark": {"type": "line", "color": "black", "strokeWidth": 3.5, "clip": true},
      "encoding": {"x": {"field": "w", "type": "quantitative", "scale": {"domain": [578, 4815], "reverse": true, "nice": false, "zero": false},
                         "axis": {"values": [3500, 3000, 2500, 2000, 1500, 1000], "format": "d", "title": "Wavenumbers (cm⁻¹)", "ticks": false, "tickSize": 0, "domain": false, "grid": false, "labelFont": "DejaVu Sans", "labelFontSize": 56, "labelColor": "black", "labelPadding": 22, "labelFlush": false, "labelOverlap": false, "titleFont": "DejaVu Sans", "titleFontSize": 48, "titleFontWeight": "normal", "titleColor": "black", "titlePadding": 12, "titleX": 1040}},
                   "y": {"field": "a", "type": "quantitative", "scale": {"domain": [0, 100], "nice": false}, "axis": null}}},
     {"transform": [{"filter": "isValid(datum.t)"}], "mark": {"type": "rule", "color": "black", "strokeWidth": 1.5, "clip": true},
      "encoding": {"x": {"field": "x1", "type": "quantitative", "scale": {"domain": [578, 4815], "reverse": true, "nice": false, "zero": false}},
                   "y": {"field": "y1", "type": "quantitative", "scale": {"domain": [0, 100], "nice": false}, "axis": null},
                   "x2": {"field": "x2"}, "y2": {"field": "y2"}}},
     {"transform": [{"filter": "isValid(datum.t)"}], "mark": {"type": "text", "fontSize": 46, "align": "center", "baseline": "alphabetic", "clip": true},
      "encoding": {"x": {"field": "tx", "type": "quantitative", "scale": {"domain": [578, 4815], "reverse": true, "nice": false, "zero": false}},
                   "y": {"field": "ty", "type": "quantitative", "scale": {"domain": [0, 100], "nice": false}, "axis": null},
                   "text": {"field": "t"}}},
     {"transform": [{"filter": "isValid(datum.n)"}], "mark": {"type": "text", "fontSize": 80, "align": "left", "baseline": "alphabetic", "clip": true},
      "encoding": {"x": {"field": "tx", "type": "quantitative", "scale": {"domain": [578, 4815], "reverse": true, "nice": false, "zero": false}},
                   "y": {"field": "ty", "type": "quantitative", "scale": {"domain": [0, 100], "nice": false}, "axis": null},
                   "text": {"field": "n"}}}
    ]
   }},
  {"data": {"name": "M"},
   "transform": [{"filter": "datum.s != 'WOOL'"}],
   "facet": {"row": {"field": "s", "type": "nominal", "header": null, "sort": ["SILK","POLYAMIDE","COTTON","VISCOSE","ACETATE","POLYESTER","POLYACRYLIC","POLYETHYLENE"]}},
   "spacing": 0,
   "spec": {
    "width": 1417, "height": 393.8,
    "layer": [
     {"transform": [{"filter": "isValid(datum.a)"}], "mark": {"type": "line", "color": "black", "strokeWidth": 4, "clip": true},
      "encoding": {"x": {"field": "w", "type": "quantitative", "scale": {"domain": [590, 4006], "reverse": true, "nice": false, "zero": false},
                         "axis": {"values": [3500, 3000, 2500, 2000, 1500, 1000], "format": "d", "title": "Wavenumbers (cm⁻¹)", "ticks": false, "tickSize": 0, "domain": false, "grid": false, "labelFont": "DejaVu Sans", "labelFontSize": 56, "labelColor": "black", "labelPadding": 22, "labelFlush": false, "labelOverlap": false, "titleFont": "DejaVu Sans", "titleFontSize": 48, "titleFontWeight": "normal", "titleColor": "black", "titlePadding": 12, "titleX": 753}},
                   "y": {"field": "a", "type": "quantitative", "scale": {"domain": [0, 100], "nice": false}, "axis": null}}},
     {"transform": [{"filter": "isValid(datum.t)"}], "mark": {"type": "rule", "color": "black", "strokeWidth": 1.5, "clip": true},
      "encoding": {"x": {"field": "x1", "type": "quantitative", "scale": {"domain": [590, 4006], "reverse": true, "nice": false, "zero": false}},
                   "y": {"field": "y1", "type": "quantitative", "scale": {"domain": [0, 100], "nice": false}, "axis": null},
                   "x2": {"field": "x2"}, "y2": {"field": "y2"}}},
     {"transform": [{"filter": "isValid(datum.t)"}], "mark": {"type": "text", "fontSize": 46, "align": "center", "baseline": "alphabetic", "clip": true},
      "encoding": {"x": {"field": "tx", "type": "quantitative", "scale": {"domain": [590, 4006], "reverse": true, "nice": false, "zero": false}},
                   "y": {"field": "ty", "type": "quantitative", "scale": {"domain": [0, 100], "nice": false}, "axis": null},
                   "text": {"field": "t"}}}
    ]
   }}
 ]}
]
}
